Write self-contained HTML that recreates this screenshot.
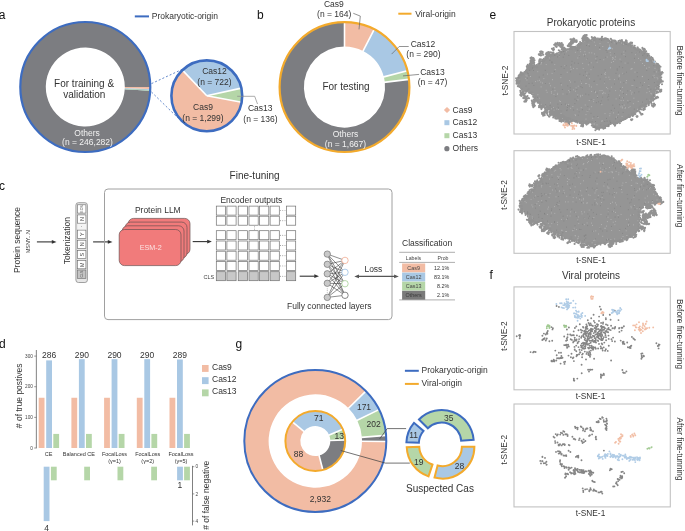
<!DOCTYPE html>
<html><head><meta charset="utf-8"><style>
html,body{margin:0;padding:0;background:#fff;width:685px;height:531px;overflow:hidden}
svg{display:block;font-family:"Liberation Sans", sans-serif;will-change:transform}
</style></head><body>
<svg width="685" height="531" viewBox="0 0 685 531">
<text x="-1.3" y="18.5" font-size="12" text-anchor="start" fill="#111" >a</text>
<text x="257" y="19" font-size="12" text-anchor="start" fill="#111" >b</text>
<text x="-1" y="189.7" font-size="12" text-anchor="start" fill="#111" >c</text>
<text x="-1" y="348.3" font-size="12" text-anchor="start" fill="#111" >d</text>
<text x="489.6" y="18.5" font-size="12" text-anchor="start" fill="#111" >e</text>
<text x="489.6" y="278.5" font-size="12" text-anchor="start" fill="#111" >f</text>
<text x="235.5" y="348.3" font-size="12" text-anchor="start" fill="#111" >g</text>
<path d="M150.20,90.63A65.0,65.0 0 1 1 150.30,87.00L124.80,87.00A39.5,39.5 0 1 0 124.74,89.20Z" fill="#7c7d81" stroke="none" stroke-width="0" />
<path d="M150.30,87.00A65.0,65.0 0 0 1 150.27,88.93L124.78,88.17A39.5,39.5 0 0 0 124.80,87.00Z" fill="#f2bca4" stroke="none" stroke-width="0" />
<path d="M150.26,89.16A65.0,65.0 0 0 1 150.20,90.63L124.74,89.20A39.5,39.5 0 0 0 124.78,88.31Z" fill="#a9c8e4" stroke="none" stroke-width="0" />
<path d="M150.23,90.06A65.0,65.0 0 0 1 150.20,90.63L124.74,89.20A39.5,39.5 0 0 0 124.76,88.86Z" fill="#b5d6a8" stroke="none" stroke-width="0" />
<circle cx="85.3" cy="87.0" r="65.0" fill="none" stroke="#3d6cc0" stroke-width="2.2"/>
<text x="84.1" y="86.5" font-size="10" text-anchor="middle" fill="#333333" >For training &amp;</text>
<text x="84.3" y="98" font-size="10" text-anchor="middle" fill="#333333" >validation</text>
<text x="87.1" y="135.7" font-size="8.5" text-anchor="middle" fill="#f2f2f2" >Others</text>
<text x="87.5" y="145.4" font-size="8.5" text-anchor="middle" fill="#f2f2f2" >(n = 246,282)</text>
<line x1="151.5" y1="83.6" x2="182.5" y2="69.2" stroke="#3d6cc0" stroke-width="0.8" stroke-dasharray="2,2"/>
<line x1="151.5" y1="92.0" x2="179.5" y2="119.5" stroke="#3d6cc0" stroke-width="0.8" stroke-dasharray="2,2"/>
<path d="M206.8,95.8L182.43,70.12A35.4,35.4 0 0 1 241.36,88.14Z" fill="#a9c8e4" stroke="none" stroke-width="0" />
<path d="M206.8,95.8L241.36,88.14A35.4,35.4 0 0 1 241.62,102.19Z" fill="#b5d6a8" stroke="none" stroke-width="0" />
<path d="M206.8,95.8L241.62,102.19A35.4,35.4 0 1 1 182.43,70.12Z" fill="#f2bca4" stroke="none" stroke-width="0" />
<line x1="206.8" y1="95.8" x2="182.43" y2="70.12" stroke="white" stroke-width="1.6" />
<line x1="206.8" y1="95.8" x2="241.36" y2="88.14" stroke="white" stroke-width="1.6" />
<line x1="206.8" y1="95.8" x2="241.62" y2="102.19" stroke="white" stroke-width="1.6" />
<circle cx="206.8" cy="95.8" r="35.4" fill="none" stroke="#3d6cc0" stroke-width="2.6"/>
<text x="214.5" y="74" font-size="8.5" text-anchor="middle" fill="#333333" >Cas12</text>
<text x="214.5" y="84.5" font-size="8.5" text-anchor="middle" fill="#333333" >(n = 722)</text>
<text x="203" y="110" font-size="8.5" text-anchor="middle" fill="#333333" >Cas9</text>
<text x="203" y="120.5" font-size="8.5" text-anchor="middle" fill="#333333" >(n = 1,299)</text>
<polyline points="237.2,96.3 254.7,96.3 257.5,104" fill="none" stroke="#888" stroke-width="0.7"/>
<text x="260.2" y="111" font-size="8.5" text-anchor="middle" fill="#333333" >Cas13</text>
<text x="260.5" y="121.5" font-size="8.5" text-anchor="middle" fill="#333333" >(n = 136)</text>
<line x1="134.8" y1="16.4" x2="149" y2="16.4" stroke="#3d6cc0" stroke-width="2" />
<text x="151.8" y="19.3" font-size="8.5" text-anchor="start" fill="#333333" >Prokaryotic-origin</text>
<path d="M344.50,22.20A64.9,64.9 0 0 1 374.20,29.39L363.08,51.00A40.6,40.6 0 0 0 344.50,46.50Z" fill="#f2bca4" stroke="none" stroke-width="0" />
<path d="M374.20,29.39A64.9,64.9 0 0 1 407.30,70.73L383.79,76.86A40.6,40.6 0 0 0 363.08,51.00Z" fill="#a9c8e4" stroke="none" stroke-width="0" />
<path d="M407.30,70.73A64.9,64.9 0 0 1 408.94,79.41L384.81,82.29A40.6,40.6 0 0 0 383.79,76.86Z" fill="#b5d6a8" stroke="none" stroke-width="0" />
<path d="M408.94,79.41A64.9,64.9 0 1 1 344.50,22.20L344.50,46.50A40.6,40.6 0 1 0 384.81,82.29Z" fill="#7c7d81" stroke="none" stroke-width="0" />
<line x1="344.50" y1="47.50" x2="344.50" y2="22.20" stroke="white" stroke-width="1.6" />
<line x1="362.62" y1="51.89" x2="374.20" y2="29.39" stroke="white" stroke-width="1.6" />
<line x1="382.82" y1="77.11" x2="407.30" y2="70.73" stroke="white" stroke-width="1.6" />
<line x1="383.82" y1="82.41" x2="408.94" y2="79.41" stroke="white" stroke-width="1.6" />
<circle cx="344.5" cy="87.1" r="64.9" fill="none" stroke="#f3aa2c" stroke-width="2.2"/>
<text x="346.0" y="89.5" font-size="10" text-anchor="middle" fill="#333333" >For testing</text>
<text x="345.5" y="137" font-size="8.5" text-anchor="middle" fill="#f2f2f2" >Others</text>
<text x="345.5" y="147" font-size="8.5" text-anchor="middle" fill="#f2f2f2" >(n = 1,667)</text>
<text x="333.8" y="6.5" font-size="8.5" text-anchor="middle" fill="#333333" >Cas9</text>
<text x="334.2" y="16.8" font-size="8.5" text-anchor="middle" fill="#333333" >(n = 164)</text>
<polyline points="353.3,13.3 360.3,16.1 359,29.4" fill="none" stroke="#666" stroke-width="0.7"/>
<text x="423" y="47" font-size="8.5" text-anchor="middle" fill="#333333" >Cas12</text>
<text x="423.5" y="57.3" font-size="8.5" text-anchor="middle" fill="#333333" >(n = 290)</text>
<polyline points="391.6,54.1 399.2,46.5 408.7,46.5" fill="none" stroke="#666" stroke-width="0.7"/>
<text x="432.5" y="75" font-size="8.5" text-anchor="middle" fill="#333333" >Cas13</text>
<text x="432.5" y="85.3" font-size="8.5" text-anchor="middle" fill="#333333" >(n = 47)</text>
<polyline points="403,75.9 419.1,74.4" fill="none" stroke="#666" stroke-width="0.7"/>
<line x1="398.3" y1="13.7" x2="411.5" y2="13.7" stroke="#f3aa2c" stroke-width="2" />
<text x="415.2" y="16.6" font-size="8.5" text-anchor="start" fill="#333333" >Viral-origin</text>
<rect x="444.8" y="107.8" width="4.4" height="4.4" fill="#f2bca4" transform="rotate(45 447 110)"/>
<rect x="444.4" y="120.2" width="5" height="5" fill="#a9c8e4"/>
<rect x="444.4" y="133.2" width="5" height="5" fill="#b5d6a8"/>
<circle cx="446.9" cy="148.7" r="2.6" fill="#7c7d81"/>
<text x="452.6" y="112.5" font-size="8.5" text-anchor="start" fill="#333333" >Cas9</text>
<text x="452.6" y="125.4" font-size="8.5" text-anchor="start" fill="#333333" >Cas12</text>
<text x="452.6" y="138.3" font-size="8.5" text-anchor="start" fill="#333333" >Cas13</text>
<text x="452.6" y="151.2" font-size="8.5" text-anchor="start" fill="#333333" >Others</text>
<text x="16.6" y="240.0" font-size="8.5" text-anchor="middle" dominant-baseline="central" fill="#333333" transform="rotate(-90 16.6 240.0)" >Protein sequence</text>
<text x="28.4" y="241.6" font-size="5.3" text-anchor="middle" dominant-baseline="central" fill="#333333" transform="rotate(-90 28.4 241.6)" >MSNY...N</text>
<line x1="36.9" y1="241.9" x2="52.3" y2="241.9" stroke="#333" stroke-width="1.1" />
<path d="M56.5,241.9L51.8,240.05L51.8,243.75Z" fill="#333"/>
<text x="67.4" y="240.6" font-size="8.5" text-anchor="middle" dominant-baseline="central" fill="#333333" transform="rotate(-90 67.4 240.6)" >Tokenization</text>
<rect x="75.9" y="202.7" width="11.5" height="79.8" rx="2.5" fill="#e6e6e6" stroke="#8a8a8a" stroke-width="0.8"/>
<rect x="77.5" y="204.8" width="8.4" height="8.3" fill="white" stroke="#666" stroke-width="0.6"/>
<text x="81.7" y="208.95000000000002" font-size="3.5" text-anchor="middle" dominant-baseline="central" fill="#555" transform="rotate(-90 81.7 208.95000000000002)" >EOS</text>
<rect x="77.5" y="214.9" width="8.4" height="8.3" fill="white" stroke="#666" stroke-width="0.6"/>
<text x="81.7" y="219.05" font-size="5.5" text-anchor="middle" dominant-baseline="central" fill="#444" transform="rotate(-90 81.7 219.05)" >N</text>
<rect x="77.5" y="230.1" width="8.4" height="8.3" fill="white" stroke="#666" stroke-width="0.6"/>
<text x="81.7" y="234.25" font-size="5.5" text-anchor="middle" dominant-baseline="central" fill="#444" transform="rotate(-90 81.7 234.25)" >Y</text>
<rect x="77.5" y="240.2" width="8.4" height="8.3" fill="white" stroke="#666" stroke-width="0.6"/>
<text x="81.7" y="244.35" font-size="5.5" text-anchor="middle" dominant-baseline="central" fill="#444" transform="rotate(-90 81.7 244.35)" >N</text>
<rect x="77.5" y="250.4" width="8.4" height="8.3" fill="white" stroke="#666" stroke-width="0.6"/>
<text x="81.7" y="254.55" font-size="5.5" text-anchor="middle" dominant-baseline="central" fill="#444" transform="rotate(-90 81.7 254.55)" >S</text>
<rect x="77.5" y="260.5" width="8.4" height="8.3" fill="white" stroke="#666" stroke-width="0.6"/>
<text x="81.7" y="264.65" font-size="5.5" text-anchor="middle" dominant-baseline="central" fill="#444" transform="rotate(-90 81.7 264.65)" >M</text>
<rect x="77.5" y="270.0" width="8.4" height="8.3" fill="#c4c4c4" stroke="#666" stroke-width="0.6"/>
<text x="81.7" y="274.15" font-size="3.5" text-anchor="middle" dominant-baseline="central" fill="#555" transform="rotate(-90 81.7 274.15)" >CLS</text>
<rect x="77.5" y="223.8" width="8.4" height="5.6" fill="#f4f4f4"/>
<text x="81.7" y="226.6" font-size="4.5" text-anchor="middle" dominant-baseline="central" fill="#777" transform="rotate(-90 81.7 226.6)" >-</text>
<line x1="93.1" y1="241.9" x2="108.3" y2="241.9" stroke="#333" stroke-width="1.1" />
<path d="M112.5,241.9L107.8,240.05L107.8,243.75Z" fill="#333"/>
<rect x="104.5" y="189" width="287.5" height="130.6" rx="3.5" fill="none" stroke="#a0a0a0" stroke-width="1"/>
<text x="254.6" y="179.4" font-size="10" text-anchor="middle" fill="#333333" >Fine-tuning</text>
<text x="157.8" y="213.1" font-size="8.5" text-anchor="middle" fill="#333333" >Protein LLM</text>
<rect x="128.2" y="218.4" width="61.8" height="36.1" rx="5.3" fill="#f17b7b" stroke="#6a5050" stroke-width="0.7"/>
<rect x="125.2" y="222.1" width="61.8" height="36.1" rx="5.3" fill="#f17b7b" stroke="#6a5050" stroke-width="0.7"/>
<rect x="122.2" y="225.8" width="61.8" height="36.1" rx="5.3" fill="#f17b7b" stroke="#6a5050" stroke-width="0.7"/>
<rect x="119.2" y="229.5" width="61.8" height="36.1" rx="5.3" fill="#f17b7b" stroke="#6a5050" stroke-width="0.7"/>
<text x="150.7" y="249.8" font-size="7.2" text-anchor="middle" fill="#fbe3e3" >ESM-2</text>
<line x1="192.7" y1="241.6" x2="207.70000000000002" y2="241.6" stroke="#333" stroke-width="1.1" />
<path d="M211.9,241.6L207.20000000000002,239.75L207.20000000000002,243.45Z" fill="#333"/>
<text x="251.4" y="203.2" font-size="8.5" text-anchor="middle" fill="#333333" >Encoder outputs</text>
<rect x="216.3" y="206.1" width="9.2" height="9.0" fill="white" stroke="#707070" stroke-width="0.7"/>
<rect x="226.9" y="206.1" width="9.2" height="9.0" fill="white" stroke="#707070" stroke-width="0.7"/>
<rect x="238.2" y="206.1" width="9.2" height="9.0" fill="white" stroke="#707070" stroke-width="0.7"/>
<rect x="249.0" y="206.1" width="9.2" height="9.0" fill="white" stroke="#707070" stroke-width="0.7"/>
<rect x="259.6" y="206.1" width="9.2" height="9.0" fill="white" stroke="#707070" stroke-width="0.7"/>
<rect x="270.1" y="206.1" width="9.2" height="9.0" fill="white" stroke="#707070" stroke-width="0.7"/>
<rect x="286.5" y="206.1" width="9.2" height="9.0" fill="white" stroke="#707070" stroke-width="0.7"/>
<circle cx="280.6" cy="210.6" r="0.45" fill="#555"/>
<circle cx="282.8" cy="210.6" r="0.45" fill="#555"/>
<circle cx="285.0" cy="210.6" r="0.45" fill="#555"/>
<rect x="216.3" y="216.2" width="9.2" height="9.0" fill="white" stroke="#707070" stroke-width="0.7"/>
<rect x="226.9" y="216.2" width="9.2" height="9.0" fill="white" stroke="#707070" stroke-width="0.7"/>
<rect x="238.2" y="216.2" width="9.2" height="9.0" fill="white" stroke="#707070" stroke-width="0.7"/>
<rect x="249.0" y="216.2" width="9.2" height="9.0" fill="white" stroke="#707070" stroke-width="0.7"/>
<rect x="259.6" y="216.2" width="9.2" height="9.0" fill="white" stroke="#707070" stroke-width="0.7"/>
<rect x="270.1" y="216.2" width="9.2" height="9.0" fill="white" stroke="#707070" stroke-width="0.7"/>
<rect x="286.5" y="216.2" width="9.2" height="9.0" fill="white" stroke="#707070" stroke-width="0.7"/>
<circle cx="280.6" cy="220.7" r="0.45" fill="#555"/>
<circle cx="282.8" cy="220.7" r="0.45" fill="#555"/>
<circle cx="285.0" cy="220.7" r="0.45" fill="#555"/>
<rect x="216.3" y="230.7" width="9.2" height="9.0" fill="white" stroke="#707070" stroke-width="0.7"/>
<rect x="226.9" y="230.7" width="9.2" height="9.0" fill="white" stroke="#707070" stroke-width="0.7"/>
<rect x="238.2" y="230.7" width="9.2" height="9.0" fill="white" stroke="#707070" stroke-width="0.7"/>
<rect x="249.0" y="230.7" width="9.2" height="9.0" fill="white" stroke="#707070" stroke-width="0.7"/>
<rect x="259.6" y="230.7" width="9.2" height="9.0" fill="white" stroke="#707070" stroke-width="0.7"/>
<rect x="270.1" y="230.7" width="9.2" height="9.0" fill="white" stroke="#707070" stroke-width="0.7"/>
<rect x="286.5" y="230.7" width="9.2" height="9.0" fill="white" stroke="#707070" stroke-width="0.7"/>
<circle cx="280.6" cy="235.2" r="0.45" fill="#555"/>
<circle cx="282.8" cy="235.2" r="0.45" fill="#555"/>
<circle cx="285.0" cy="235.2" r="0.45" fill="#555"/>
<rect x="216.3" y="241.0" width="9.2" height="9.0" fill="white" stroke="#707070" stroke-width="0.7"/>
<rect x="226.9" y="241.0" width="9.2" height="9.0" fill="white" stroke="#707070" stroke-width="0.7"/>
<rect x="238.2" y="241.0" width="9.2" height="9.0" fill="white" stroke="#707070" stroke-width="0.7"/>
<rect x="249.0" y="241.0" width="9.2" height="9.0" fill="white" stroke="#707070" stroke-width="0.7"/>
<rect x="259.6" y="241.0" width="9.2" height="9.0" fill="white" stroke="#707070" stroke-width="0.7"/>
<rect x="270.1" y="241.0" width="9.2" height="9.0" fill="white" stroke="#707070" stroke-width="0.7"/>
<rect x="286.5" y="241.0" width="9.2" height="9.0" fill="white" stroke="#707070" stroke-width="0.7"/>
<circle cx="280.6" cy="245.5" r="0.45" fill="#555"/>
<circle cx="282.8" cy="245.5" r="0.45" fill="#555"/>
<circle cx="285.0" cy="245.5" r="0.45" fill="#555"/>
<rect x="216.3" y="251.2" width="9.2" height="9.0" fill="white" stroke="#707070" stroke-width="0.7"/>
<rect x="226.9" y="251.2" width="9.2" height="9.0" fill="white" stroke="#707070" stroke-width="0.7"/>
<rect x="238.2" y="251.2" width="9.2" height="9.0" fill="white" stroke="#707070" stroke-width="0.7"/>
<rect x="249.0" y="251.2" width="9.2" height="9.0" fill="white" stroke="#707070" stroke-width="0.7"/>
<rect x="259.6" y="251.2" width="9.2" height="9.0" fill="white" stroke="#707070" stroke-width="0.7"/>
<rect x="270.1" y="251.2" width="9.2" height="9.0" fill="white" stroke="#707070" stroke-width="0.7"/>
<rect x="286.5" y="251.2" width="9.2" height="9.0" fill="white" stroke="#707070" stroke-width="0.7"/>
<circle cx="280.6" cy="255.7" r="0.45" fill="#555"/>
<circle cx="282.8" cy="255.7" r="0.45" fill="#555"/>
<circle cx="285.0" cy="255.7" r="0.45" fill="#555"/>
<rect x="216.3" y="261.4" width="9.2" height="9.0" fill="white" stroke="#707070" stroke-width="0.7"/>
<rect x="226.9" y="261.4" width="9.2" height="9.0" fill="white" stroke="#707070" stroke-width="0.7"/>
<rect x="238.2" y="261.4" width="9.2" height="9.0" fill="white" stroke="#707070" stroke-width="0.7"/>
<rect x="249.0" y="261.4" width="9.2" height="9.0" fill="white" stroke="#707070" stroke-width="0.7"/>
<rect x="259.6" y="261.4" width="9.2" height="9.0" fill="white" stroke="#707070" stroke-width="0.7"/>
<rect x="270.1" y="261.4" width="9.2" height="9.0" fill="white" stroke="#707070" stroke-width="0.7"/>
<rect x="286.5" y="261.4" width="9.2" height="9.0" fill="white" stroke="#707070" stroke-width="0.7"/>
<circle cx="280.6" cy="265.9" r="0.45" fill="#555"/>
<circle cx="282.8" cy="265.9" r="0.45" fill="#555"/>
<circle cx="285.0" cy="265.9" r="0.45" fill="#555"/>
<rect x="216.3" y="271.7" width="9.2" height="9.0" fill="#c8c8c8" stroke="#707070" stroke-width="0.7"/>
<rect x="226.9" y="271.7" width="9.2" height="9.0" fill="#c8c8c8" stroke="#707070" stroke-width="0.7"/>
<rect x="238.2" y="271.7" width="9.2" height="9.0" fill="#c8c8c8" stroke="#707070" stroke-width="0.7"/>
<rect x="249.0" y="271.7" width="9.2" height="9.0" fill="#c8c8c8" stroke="#707070" stroke-width="0.7"/>
<rect x="259.6" y="271.7" width="9.2" height="9.0" fill="#c8c8c8" stroke="#707070" stroke-width="0.7"/>
<rect x="270.1" y="271.7" width="9.2" height="9.0" fill="#c8c8c8" stroke="#707070" stroke-width="0.7"/>
<rect x="286.5" y="271.7" width="9.2" height="9.0" fill="#c8c8c8" stroke="#707070" stroke-width="0.7"/>
<circle cx="280.6" cy="276.2" r="0.45" fill="#555"/>
<circle cx="282.8" cy="276.2" r="0.45" fill="#555"/>
<circle cx="285.0" cy="276.2" r="0.45" fill="#555"/>
<line x1="254.5" y1="226" x2="254.5" y2="230" stroke="#888" stroke-width="0.6" stroke-dasharray="0.8,0.8"/>
<text x="208.8" y="279.0" font-size="5.5" text-anchor="middle" fill="#444" >CLS</text>
<line x1="299.7" y1="276.2" x2="314.8" y2="276.2" stroke="#333" stroke-width="1.1" />
<path d="M319,276.2L314.3,274.34999999999997L314.3,278.05Z" fill="#333"/>
<line x1="327.3" y1="254.1" x2="345" y2="260.4" stroke="#333" stroke-width="0.55" />
<line x1="327.3" y1="254.1" x2="345" y2="272.3" stroke="#333" stroke-width="0.55" />
<line x1="327.3" y1="254.1" x2="345" y2="283.7" stroke="#333" stroke-width="0.55" />
<line x1="327.3" y1="254.1" x2="345" y2="295.3" stroke="#333" stroke-width="0.55" />
<line x1="327.3" y1="264.3" x2="345" y2="260.4" stroke="#333" stroke-width="0.55" />
<line x1="327.3" y1="264.3" x2="345" y2="272.3" stroke="#333" stroke-width="0.55" />
<line x1="327.3" y1="264.3" x2="345" y2="283.7" stroke="#333" stroke-width="0.55" />
<line x1="327.3" y1="264.3" x2="345" y2="295.3" stroke="#333" stroke-width="0.55" />
<line x1="327.3" y1="273.8" x2="345" y2="260.4" stroke="#333" stroke-width="0.55" />
<line x1="327.3" y1="273.8" x2="345" y2="272.3" stroke="#333" stroke-width="0.55" />
<line x1="327.3" y1="273.8" x2="345" y2="283.7" stroke="#333" stroke-width="0.55" />
<line x1="327.3" y1="273.8" x2="345" y2="295.3" stroke="#333" stroke-width="0.55" />
<line x1="327.3" y1="283.3" x2="345" y2="260.4" stroke="#333" stroke-width="0.55" />
<line x1="327.3" y1="283.3" x2="345" y2="272.3" stroke="#333" stroke-width="0.55" />
<line x1="327.3" y1="283.3" x2="345" y2="283.7" stroke="#333" stroke-width="0.55" />
<line x1="327.3" y1="283.3" x2="345" y2="295.3" stroke="#333" stroke-width="0.55" />
<line x1="327.3" y1="297.4" x2="345" y2="260.4" stroke="#333" stroke-width="0.55" />
<line x1="327.3" y1="297.4" x2="345" y2="272.3" stroke="#333" stroke-width="0.55" />
<line x1="327.3" y1="297.4" x2="345" y2="283.7" stroke="#333" stroke-width="0.55" />
<line x1="327.3" y1="297.4" x2="345" y2="295.3" stroke="#333" stroke-width="0.55" />
<circle cx="327.3" cy="254.1" r="3.2" fill="#c9c9c9" stroke="#666" stroke-width="0.6"/>
<circle cx="327.3" cy="264.3" r="3.2" fill="#c9c9c9" stroke="#666" stroke-width="0.6"/>
<circle cx="327.3" cy="273.8" r="3.2" fill="#c9c9c9" stroke="#666" stroke-width="0.6"/>
<circle cx="327.3" cy="283.3" r="3.2" fill="#c9c9c9" stroke="#666" stroke-width="0.6"/>
<circle cx="327.3" cy="297.4" r="3.2" fill="#c9c9c9" stroke="#666" stroke-width="0.6"/>
<line x1="327.3" y1="288.5" x2="327.3" y2="293" stroke="#777" stroke-width="0.6" stroke-dasharray="0.8,0.9"/>
<circle cx="345" cy="260.4" r="3.2" fill="white" stroke="#f0a285" stroke-width="0.7"/>
<circle cx="345" cy="272.3" r="3.2" fill="white" stroke="#8fb7e0" stroke-width="0.7"/>
<circle cx="345" cy="283.7" r="3.2" fill="white" stroke="#9ccc8a" stroke-width="0.7"/>
<circle cx="345" cy="295.3" r="3.2" fill="white" stroke="#555" stroke-width="0.7"/>
<text x="329.3" y="309" font-size="8.5" text-anchor="middle" fill="#333333" >Fully connected layers</text>
<text x="373.4" y="271.7" font-size="8.5" text-anchor="middle" fill="#333333" >Loss</text>
<line x1="357" y1="276.4" x2="396" y2="276.4" stroke="#555" stroke-width="1.1" />
<path d="M354.3,276.4L359,274.5L359,278.3Z" fill="#555"/>
<path d="M398.8,276.4L394.1,274.5L394.1,278.3Z" fill="#555"/>
<text x="427.1" y="246.3" font-size="8.5" text-anchor="middle" fill="#333333" >Classification</text>
<line x1="399.2" y1="252.3" x2="455" y2="252.3" stroke="#999" stroke-width="0.8" />
<line x1="399.2" y1="262.4" x2="455" y2="262.4" stroke="#999" stroke-width="0.8" />
<line x1="399.2" y1="299.9" x2="455" y2="299.9" stroke="#999" stroke-width="0.8" />
<text x="413.5" y="259.8" font-size="5.2" text-anchor="middle" fill="#444" >Labels</text>
<text x="443" y="259.8" font-size="5.2" text-anchor="middle" fill="#444" >Prob</text>
<rect x="402.1" y="263.5" width="23.1" height="8.9" fill="#f2bca4"/>
<text x="413.6" y="269.9" font-size="5.4" text-anchor="middle" fill="#444" >Cas9</text>
<text x="449.3" y="269.9" font-size="5.4" text-anchor="end" fill="#333" >12.1%</text>
<rect x="402.1" y="272.6" width="23.1" height="8.9" fill="#a9c8e4"/>
<text x="413.6" y="279.0" font-size="5.4" text-anchor="middle" fill="#444" >Cas12</text>
<text x="449.3" y="279.0" font-size="5.4" text-anchor="end" fill="#333" >83.1%</text>
<rect x="402.1" y="281.7" width="23.1" height="8.9" fill="#b5d6a8"/>
<text x="413.6" y="288.09999999999997" font-size="5.4" text-anchor="middle" fill="#444" >Cas13</text>
<text x="449.3" y="288.09999999999997" font-size="5.4" text-anchor="end" fill="#333" >8.2%</text>
<rect x="402.1" y="290.8" width="23.1" height="8.9" fill="#7a7a7a"/>
<text x="413.6" y="297.2" font-size="5.4" text-anchor="middle" fill="#3a3a3a" >Others</text>
<text x="449.3" y="297.2" font-size="5.4" text-anchor="end" fill="#333" >2.1%</text>
<line x1="36.35" y1="350" x2="36.35" y2="448.3" stroke="#555" stroke-width="0.75" />
<line x1="34.2" y1="448.0" x2="36.35" y2="448.0" stroke="#555" stroke-width="0.6" />
<text x="32.9" y="449.7" font-size="4.7" text-anchor="end" fill="#444" >0</text>
<line x1="34.2" y1="417.3666666666667" x2="36.35" y2="417.3666666666667" stroke="#555" stroke-width="0.6" />
<text x="32.9" y="419.06666666666666" font-size="4.7" text-anchor="end" fill="#444" >100</text>
<line x1="34.2" y1="386.73333333333335" x2="36.35" y2="386.73333333333335" stroke="#555" stroke-width="0.6" />
<text x="32.9" y="388.43333333333334" font-size="4.7" text-anchor="end" fill="#444" >200</text>
<line x1="34.2" y1="356.1" x2="36.35" y2="356.1" stroke="#555" stroke-width="0.6" />
<text x="32.9" y="357.8" font-size="4.7" text-anchor="end" fill="#444" >300</text>
<text x="18.8" y="395.8" font-size="8.5" text-anchor="middle" dominant-baseline="central" fill="#333333" transform="rotate(-90 18.8 395.8)" ># of true postives</text>
<rect x="38.70" y="397.76" width="5.8" height="50.24" fill="#f2bca4"/>
<rect x="46.20" y="360.39" width="5.8" height="87.61" fill="#a9c8e4"/>
<rect x="53.30" y="433.91" width="5.8" height="14.09" fill="#b5d6a8"/>
<text x="49.10" y="357.8" font-size="8.5" text-anchor="middle" fill="#333333" >286</text>
<rect x="71.40" y="397.76" width="5.8" height="50.24" fill="#f2bca4"/>
<rect x="78.90" y="359.16" width="5.8" height="88.84" fill="#a9c8e4"/>
<rect x="86.00" y="433.91" width="5.8" height="14.09" fill="#b5d6a8"/>
<text x="81.80" y="357.8" font-size="8.5" text-anchor="middle" fill="#333333" >290</text>
<rect x="104.10" y="397.76" width="5.8" height="50.24" fill="#f2bca4"/>
<rect x="111.60" y="359.16" width="5.8" height="88.84" fill="#a9c8e4"/>
<rect x="118.70" y="433.91" width="5.8" height="14.09" fill="#b5d6a8"/>
<text x="114.50" y="357.8" font-size="8.5" text-anchor="middle" fill="#333333" >290</text>
<rect x="136.80" y="397.76" width="5.8" height="50.24" fill="#f2bca4"/>
<rect x="144.30" y="359.16" width="5.8" height="88.84" fill="#a9c8e4"/>
<rect x="151.40" y="433.91" width="5.8" height="14.09" fill="#b5d6a8"/>
<text x="147.20" y="357.8" font-size="8.5" text-anchor="middle" fill="#333333" >290</text>
<rect x="169.50" y="397.76" width="5.8" height="50.24" fill="#f2bca4"/>
<rect x="177.00" y="359.47" width="5.8" height="88.53" fill="#a9c8e4"/>
<rect x="184.10" y="433.91" width="5.8" height="14.09" fill="#b5d6a8"/>
<text x="179.90" y="357.8" font-size="8.5" text-anchor="middle" fill="#333333" >289</text>
<text x="48.60" y="456.0" font-size="5.5" text-anchor="middle" fill="#333" >CE</text>
<text x="78.90" y="456.0" font-size="5.5" text-anchor="middle" fill="#333" >Balanced CE</text>
<text x="114.50" y="456.0" font-size="5.5" text-anchor="middle" fill="#333" >FocalLoss</text>
<text x="114.50" y="462.6" font-size="5.5" text-anchor="middle" fill="#333" >(γ=1)</text>
<text x="147.70" y="456.0" font-size="5.5" text-anchor="middle" fill="#333" >FocalLoss</text>
<text x="147.70" y="462.6" font-size="5.5" text-anchor="middle" fill="#333" >(γ=2)</text>
<text x="181.00" y="456.0" font-size="5.5" text-anchor="middle" fill="#333" >FocalLoss</text>
<text x="181.00" y="462.6" font-size="5.5" text-anchor="middle" fill="#333" >(γ=5)</text>
<rect x="202" y="365.0" width="6.6" height="6.9" fill="#f2bca4"/>
<text x="212" y="369.9" font-size="8.5" text-anchor="start" fill="#333333" >Cas9</text>
<rect x="202" y="377.2" width="6.6" height="6.9" fill="#a9c8e4"/>
<text x="212" y="382.1" font-size="8.5" text-anchor="start" fill="#333333" >Cas12</text>
<rect x="202" y="389.4" width="6.6" height="6.9" fill="#b5d6a8"/>
<text x="212" y="394.3" font-size="8.5" text-anchor="start" fill="#333333" >Cas13</text>
<line x1="192.5" y1="465.8" x2="192.5" y2="525.4" stroke="#555" stroke-width="0.75" />
<line x1="192.5" y1="466.7" x2="194.3" y2="466.7" stroke="#555" stroke-width="0.6" />
<text x="195.6" y="468.4" font-size="4.7" text-anchor="start" fill="#444" >0</text>
<line x1="192.5" y1="493.9" x2="194.3" y2="493.9" stroke="#555" stroke-width="0.6" />
<text x="195.6" y="495.59999999999997" font-size="4.7" text-anchor="start" fill="#444" >2</text>
<line x1="192.5" y1="521.1" x2="194.3" y2="521.1" stroke="#555" stroke-width="0.6" />
<text x="195.6" y="522.8000000000001" font-size="4.7" text-anchor="start" fill="#444" >4</text>
<rect x="43.7" y="466.7" width="5.8" height="54.40" fill="#a9c8e4"/>
<rect x="50.9" y="466.7" width="5.8" height="13.60" fill="#b5d6a8"/>
<rect x="84.2" y="466.7" width="5.8" height="13.60" fill="#b5d6a8"/>
<rect x="117.5" y="466.7" width="5.8" height="13.60" fill="#b5d6a8"/>
<rect x="151.2" y="466.7" width="5.8" height="13.60" fill="#b5d6a8"/>
<rect x="177.1" y="466.7" width="5.8" height="13.60" fill="#a9c8e4"/>
<rect x="184.1" y="466.7" width="5.8" height="13.60" fill="#b5d6a8"/>
<text x="46.5" y="531.0" font-size="8.5" text-anchor="middle" fill="#333333" >4</text>
<text x="179.8" y="488.3" font-size="8.5" text-anchor="middle" fill="#333333" >1</text>
<text x="205.9" y="495.3" font-size="8.5" text-anchor="middle" dominant-baseline="central" fill="#333333" transform="rotate(-90 205.9 495.3)" ># of false negative</text>
<path d="M386.30,441.50A71.0,71.0 0 1 1 365.84,391.14L348.54,408.20A46.7,46.7 0 1 0 362.00,441.33Z" fill="#f2bca4" stroke="none" stroke-width="0" />
<path d="M365.84,391.14A71.0,71.0 0 0 1 378.98,409.61L357.19,420.35A46.7,46.7 0 0 0 348.54,408.20Z" fill="#a9c8e4" stroke="none" stroke-width="0" />
<path d="M378.98,409.61A71.0,71.0 0 0 1 386.08,435.38L361.85,437.30A46.7,46.7 0 0 0 357.19,420.35Z" fill="#b5d6a8" stroke="none" stroke-width="0" />
<path d="M386.08,435.38A71.0,71.0 0 0 1 386.30,441.50L362.00,441.33A46.7,46.7 0 0 0 361.85,437.30Z" fill="#7c7d81" stroke="none" stroke-width="0" />
<line x1="361.50" y1="441.32" x2="386.30" y2="441.50" stroke="white" stroke-width="1.6" />
<line x1="348.19" y1="408.55" x2="365.84" y2="391.14" stroke="white" stroke-width="1.6" />
<line x1="356.74" y1="420.57" x2="378.98" y2="409.61" stroke="white" stroke-width="1.6" />
<line x1="361.35" y1="437.34" x2="386.08" y2="435.38" stroke="white" stroke-width="1.6" />
<circle cx="315.3" cy="441.0" r="71.0" fill="none" stroke="#3d6cc0" stroke-width="2"/>
<path d="M292.40,421.78A29.9,29.9 0 0 1 342.76,429.18L329.08,435.07A15.0,15.0 0 0 0 303.81,431.36Z" fill="#a9c8e4" stroke="none" stroke-width="0" />
<path d="M342.76,429.18A29.9,29.9 0 0 1 345.18,440.00L330.29,440.50A15.0,15.0 0 0 0 329.08,435.07Z" fill="#b5d6a8" stroke="none" stroke-width="0" />
<path d="M345.18,440.00A29.9,29.9 0 0 1 322.87,469.93L319.10,455.51A15.0,15.0 0 0 0 330.29,440.50Z" fill="#7c7d81" stroke="none" stroke-width="0" />
<path d="M322.87,469.93A29.9,29.9 0 0 1 292.40,421.78L303.81,431.36A15.0,15.0 0 0 0 319.10,455.51Z" fill="#f2bca4" stroke="none" stroke-width="0" />
<line x1="304.19" y1="431.68" x2="292.40" y2="421.78" stroke="white" stroke-width="1.6" />
<line x1="328.62" y1="435.27" x2="342.76" y2="429.18" stroke="white" stroke-width="1.6" />
<line x1="329.79" y1="440.51" x2="345.18" y2="440.00" stroke="white" stroke-width="1.6" />
<line x1="318.97" y1="455.03" x2="322.87" y2="469.93" stroke="white" stroke-width="1.6" />
<circle cx="315.3" cy="441.0" r="29.9" fill="none" stroke="#f3aa2c" stroke-width="2"/>
<text x="318.8" y="421.2" font-size="8.5" text-anchor="middle" fill="#333333" >71</text>
<text x="339.2" y="439.0" font-size="8.5" text-anchor="middle" fill="#333333" >13</text>
<text x="298.4" y="457.1" font-size="8.5" text-anchor="middle" fill="#333333" >88</text>
<text x="364" y="409.5" font-size="8.5" text-anchor="middle" fill="#333333" >171</text>
<text x="373.7" y="427.4" font-size="8.5" text-anchor="middle" fill="#333333" >202</text>
<text x="320.3" y="501.5" font-size="8.5" text-anchor="middle" fill="#333333" >2,932</text>
<path d="M406.40,442.33A32.0,32.0 0 0 1 414.00,422.82L423.52,430.92A19.5,19.5 0 0 0 418.89,442.81Z" fill="#a9c8e4" stroke="#3d6cc0" stroke-width="2" stroke-linejoin="miter"/>
<path d="M418.99,419.52A32.0,32.0 0 0 1 473.62,439.75L461.15,440.66A19.5,19.5 0 0 0 427.86,428.33Z" fill="#b5d6a8" stroke="#3d6cc0" stroke-width="2" stroke-linejoin="miter"/>
<path d="M474.39,446.70A32.0,32.0 0 0 1 434.51,477.57L437.59,465.46A19.5,19.5 0 0 0 461.89,446.65Z" fill="#a9c8e4" stroke="#f3aa2c" stroke-width="2" stroke-linejoin="miter"/>
<path d="M428.48,476.38A32.0,32.0 0 0 1 406.74,447.28L419.23,446.81A19.5,19.5 0 0 0 432.48,464.53Z" fill="#b5d6a8" stroke="#f3aa2c" stroke-width="2" stroke-linejoin="miter"/>
<text x="448.8" y="421.0" font-size="8.5" text-anchor="middle" fill="#333333" >35</text>
<text x="413.6" y="437.9" font-size="8.5" text-anchor="middle" fill="#333333" >11</text>
<text x="418.7" y="465.3" font-size="8.5" text-anchor="middle" fill="#333333" >19</text>
<text x="459.4" y="468.6" font-size="8.5" text-anchor="middle" fill="#333333" >28</text>
<polyline points="379.7,438.8 387.2,428.6 406.1,428.6" fill="none" stroke="#444" stroke-width="0.75"/>
<polyline points="340.7,450.5 385.4,463.1 409.8,463.1" fill="none" stroke="#444" stroke-width="0.75"/>
<text x="440" y="491.8" font-size="10" text-anchor="middle" fill="#333333" >Suspected Cas</text>
<line x1="404.9" y1="370.8" x2="418.8" y2="370.8" stroke="#3d6cc0" stroke-width="2" />
<text x="421.6" y="373.0" font-size="8.5" text-anchor="start" fill="#333333" >Prokaryotic-origin</text>
<line x1="404.9" y1="383.9" x2="418.8" y2="383.9" stroke="#f3aa2c" stroke-width="2" />
<text x="421.6" y="386.1" font-size="8.5" text-anchor="start" fill="#333333" >Viral-origin</text>
<text x="591" y="25.6" font-size="10" text-anchor="middle" fill="#333333" >Prokaryotic proteins</text>
<text x="591" y="279.0" font-size="10" text-anchor="middle" fill="#333333" >Viral proteins</text>
<rect x="514.0" y="31.5" width="156.2" height="102.5" fill="none" stroke="#c2c2c2" stroke-width="1.1"/>
<rect x="514.0" y="150.7" width="156.2" height="102.6" fill="none" stroke="#c2c2c2" stroke-width="1.1"/>
<rect x="514.0" y="286.9" width="156.3" height="102.9" fill="none" stroke="#c2c2c2" stroke-width="1.1"/>
<rect x="514.0" y="404.0" width="156.3" height="102.9" fill="none" stroke="#c2c2c2" stroke-width="1.1"/>
<text x="504.5" y="80.5" font-size="8.3" text-anchor="middle" dominant-baseline="central" fill="#333333" transform="rotate(-90 504.5 80.5)" >t-SNE-2</text>
<text x="504.5" y="194.89999999999998" font-size="8.3" text-anchor="middle" dominant-baseline="central" fill="#333333" transform="rotate(-90 504.5 194.89999999999998)" >t-SNE-2</text>
<text x="504.5" y="336.09999999999997" font-size="8.3" text-anchor="middle" dominant-baseline="central" fill="#333333" transform="rotate(-90 504.5 336.09999999999997)" >t-SNE-2</text>
<text x="504.5" y="449.7" font-size="8.3" text-anchor="middle" dominant-baseline="central" fill="#333333" transform="rotate(-90 504.5 449.7)" >t-SNE-2</text>
<text x="591" y="145.2" font-size="8.3" text-anchor="middle" fill="#333333" >t-SNE-1</text>
<text x="591" y="262.9" font-size="8.3" text-anchor="middle" fill="#333333" >t-SNE-1</text>
<text x="590.5" y="399.2" font-size="8.3" text-anchor="middle" fill="#333333" >t-SNE-1</text>
<text x="590.5" y="516.2" font-size="8.3" text-anchor="middle" fill="#333333" >t-SNE-1</text>
<text x="680.3" y="80.6" font-size="8.3" text-anchor="middle" dominant-baseline="central" fill="#333333" transform="rotate(90 680.3 80.6)" >Before fine-tunning</text>
<text x="680.3" y="195.7" font-size="8.3" text-anchor="middle" dominant-baseline="central" fill="#333333" transform="rotate(90 680.3 195.7)" >After fine-tunning</text>
<text x="680.3" y="334.0" font-size="8.3" text-anchor="middle" dominant-baseline="central" fill="#333333" transform="rotate(90 680.3 334.0)" >Before fine-tunning</text>
<text x="680.3" y="449.0" font-size="8.3" text-anchor="middle" dominant-baseline="central" fill="#333333" transform="rotate(90 680.3 449.0)" >After fine-tunning</text>
<polygon points="517.5,81.8 519.0,76.0 523.7,72.0 529.5,68.5 537.7,63.9 547.0,56.9 556.4,53.4 564.6,49.9 573.9,47.5 582.0,42.8 589.0,40.5 597.0,38.0 607.5,39.2 613.4,43.0 622.7,41.5 630.9,45.2 640.2,50.4 648.4,55.7 655.4,63.9 660.0,68.5 660.5,76.7 661.0,82.6 656.6,87.0 654.2,95.2 650.7,102.2 641.4,108.0 634.4,113.9 625.0,119.7 613.4,123.2 605.2,126.7 596.0,129.5 590.0,122.0 577.4,122.0 566.9,119.7 561.0,115.0 556.4,109.2 550.5,109.2 542.4,106.9 535.4,99.9 533.0,92.8 523.7,91.1 519.0,87.0" fill="#959595" stroke="#959595" stroke-width="1" stroke-linejoin="round"/>
<path d="M516.1 78.3h0M516.9 79.0h0M516.4 80.6h0M519.4 77.7h0M518.2 79.8h0M520.1 81.3h0M518.0 77.6h0M518.7 75.9h0M519.9 75.5h0M519.4 74.8h0M520.7 73.0h0M521.3 73.6h0M525.6 72.0h0M522.0 73.8h0M526.9 71.7h0M526.6 69.8h0M529.3 68.6h0M525.9 70.7h0M529.1 68.8h0M527.5 69.0h0M522.9 73.9h0M528.7 69.9h0M532.0 68.7h0M529.9 67.3h0M531.0 67.1h0M535.6 66.2h0M530.9 70.2h0M535.4 66.8h0M529.7 68.7h0M537.2 67.3h0M531.2 69.2h0M532.1 67.4h0M529.6 67.7h0M542.5 60.5h0M545.3 57.3h0M546.0 58.4h0M546.5 56.9h0M539.3 60.2h0M541.5 61.9h0M542.9 59.9h0M538.8 63.5h0M544.2 60.8h0M543.1 60.3h0M545.1 59.2h0M543.7 58.9h0M540.9 61.6h0M547.0 57.9h0M548.0 57.5h0M553.0 55.6h0M556.8 53.6h0M553.0 54.2h0M549.5 57.0h0M553.8 54.4h0M551.4 54.9h0M550.4 55.8h0M552.0 52.8h0M553.4 52.6h0M554.7 54.9h0M564.5 49.5h0M563.7 49.6h0M560.5 52.1h0M562.6 52.0h0M565.7 48.8h0M559.5 50.7h0M560.2 51.5h0M563.9 51.0h0M560.5 53.3h0M558.8 50.2h0M567.8 49.3h0M571.1 48.9h0M572.4 46.8h0M572.2 49.1h0M564.8 50.2h0M573.8 47.0h0M569.8 49.0h0M570.2 47.0h0M572.0 47.9h0M565.4 49.7h0M565.4 50.1h0M577.1 46.9h0M581.5 43.0h0M574.4 47.1h0M578.9 43.8h0M580.8 43.8h0M579.4 45.7h0M576.0 46.6h0M577.7 45.0h0M580.1 42.1h0M579.8 45.4h0M576.5 46.7h0M587.3 41.9h0M584.0 40.9h0M586.3 40.4h0M587.9 40.7h0M588.4 40.1h0M583.6 40.2h0M582.8 41.1h0M588.6 40.6h0M594.7 40.4h0M594.5 37.2h0M593.0 38.3h0M595.1 37.6h0M593.2 38.6h0M592.7 40.2h0M593.5 38.0h0M589.4 40.1h0M595.8 39.3h0M595.7 39.0h0M602.1 36.7h0M605.3 38.4h0M607.6 39.5h0M602.1 40.2h0M601.8 38.5h0M602.5 39.6h0M606.4 38.6h0M607.1 38.8h0M603.4 39.9h0M602.1 38.5h0M606.2 39.1h0M604.3 38.5h0M612.7 42.3h0M612.1 40.2h0M608.6 40.3h0M610.9 38.9h0M610.0 41.6h0M611.6 41.3h0M612.7 42.3h0M608.5 39.2h0M616.4 42.1h0M621.1 42.7h0M616.1 43.8h0M616.7 43.1h0M618.7 42.8h0M618.5 41.1h0M619.8 40.5h0M615.5 40.8h0M621.4 42.4h0M622.7 45.1h0M622.1 42.2h0M628.6 44.6h0M628.0 45.4h0M622.5 42.8h0M623.3 43.0h0M630.7 44.8h0M626.9 42.2h0M628.5 44.4h0M624.8 42.2h0M626.4 43.2h0M624.8 44.0h0M640.5 50.2h0M632.5 45.2h0M637.5 50.2h0M634.5 48.5h0M630.4 43.4h0M631.0 46.6h0M634.9 47.9h0M637.8 48.1h0M637.8 47.5h0M635.6 49.2h0M637.4 47.6h0M634.7 45.7h0M647.0 53.6h0M648.7 54.1h0M646.6 53.5h0M647.0 54.6h0M645.0 52.9h0M644.9 53.3h0M647.5 54.6h0M644.5 53.4h0M644.8 52.5h0M646.2 51.3h0M639.2 49.4h0M649.9 58.0h0M649.4 57.6h0M651.2 57.1h0M653.2 59.6h0M654.2 62.5h0M647.6 55.4h0M649.3 55.8h0M652.3 60.6h0M654.9 61.6h0M650.0 58.9h0M650.6 60.1h0M652.0 61.9h0M657.5 65.3h0M656.5 65.5h0M658.5 64.7h0M658.0 64.0h0M656.6 63.6h0M658.3 66.0h0M659.3 65.7h0M662.1 72.1h0M661.4 74.4h0M660.3 72.5h0M661.0 73.6h0M659.6 74.2h0M658.8 74.1h0M662.7 72.8h0M660.4 75.0h0M660.7 74.5h0M660.5 80.3h0M659.6 79.3h0M661.2 81.8h0M662.8 81.4h0M661.3 77.2h0M660.4 78.9h0M661.2 80.1h0M656.7 85.1h0M658.7 84.3h0M659.4 82.2h0M662.0 84.2h0M658.3 84.7h0M659.0 86.3h0M657.7 81.7h0M654.2 89.2h0M653.5 95.0h0M656.7 87.5h0M655.3 87.2h0M654.4 94.3h0M656.8 89.1h0M655.9 89.2h0M654.8 93.2h0M655.6 89.0h0M656.0 86.7h0M653.0 100.8h0M652.9 97.5h0M651.2 98.8h0M651.1 102.4h0M652.3 98.5h0M653.3 99.1h0M649.6 100.3h0M653.0 100.7h0M651.1 101.6h0M644.7 104.8h0M640.7 106.3h0M648.4 102.1h0M651.3 103.5h0M643.6 108.1h0M649.3 101.6h0M648.7 105.3h0M645.9 104.2h0M649.0 103.9h0M644.6 104.7h0M645.0 105.8h0M642.0 105.3h0M644.3 105.1h0M633.9 112.7h0M636.8 111.2h0M639.5 111.8h0M634.0 114.3h0M639.2 109.6h0M635.4 114.0h0M639.6 107.3h0M641.2 109.5h0M637.5 111.3h0M640.9 109.3h0M631.9 113.9h0M632.6 115.9h0M632.8 114.0h0M629.7 116.0h0M633.6 114.0h0M628.8 115.1h0M629.9 117.0h0M625.8 118.5h0M628.6 116.9h0M624.7 119.0h0M633.3 114.1h0M626.6 117.2h0M633.4 115.5h0M622.8 119.7h0M618.4 121.9h0M619.8 123.0h0M625.8 118.0h0M616.2 123.0h0M617.6 122.9h0M620.8 121.0h0M614.5 124.4h0M620.5 120.9h0M615.7 123.8h0M619.9 123.1h0M621.2 121.2h0M619.9 121.1h0M620.6 120.5h0M607.6 125.2h0M606.5 126.0h0M610.1 123.8h0M608.6 125.2h0M605.5 126.0h0M608.1 126.3h0M608.7 126.0h0M609.8 123.9h0M611.7 123.0h0M604.2 125.9h0M602.4 127.2h0M605.2 127.9h0M599.1 129.6h0M597.1 128.8h0M603.4 127.8h0M603.5 128.8h0M599.8 127.8h0M598.6 128.0h0M602.0 127.7h0M600.6 125.1h0M597.2 127.8h0M595.4 130.2h0M592.9 125.2h0M593.4 123.9h0M593.3 126.3h0M589.7 122.4h0M594.0 127.0h0M588.5 121.9h0M591.8 125.5h0M592.4 125.2h0M593.2 127.0h0M594.9 126.6h0M586.1 123.9h0M589.3 121.3h0M582.2 121.7h0M580.4 121.9h0M583.8 123.3h0M587.0 121.6h0M583.1 121.4h0M583.3 122.1h0M590.1 121.8h0M581.2 123.4h0M579.7 122.9h0M580.5 122.1h0M584.7 122.8h0M583.4 123.1h0M585.9 121.6h0M572.1 120.9h0M577.2 121.3h0M571.3 121.7h0M570.2 118.7h0M574.2 120.8h0M567.5 120.6h0M572.5 120.0h0M569.9 121.7h0M575.5 121.8h0M567.8 118.6h0M569.1 121.5h0M577.4 122.6h0M563.7 117.5h0M562.1 116.3h0M564.5 118.7h0M568.7 118.0h0M563.7 115.8h0M562.4 117.5h0M563.9 116.8h0M563.1 116.8h0M562.0 115.2h0M559.5 113.6h0M557.3 108.9h0M559.1 112.8h0M561.5 114.3h0M561.2 111.0h0M559.1 113.1h0M557.3 109.3h0M556.5 111.0h0M557.8 106.9h0M554.8 108.7h0M551.7 109.3h0M551.3 111.2h0M551.1 108.7h0M553.3 108.8h0M556.1 110.0h0M545.0 108.2h0M547.7 107.1h0M546.4 106.6h0M545.8 108.7h0M542.6 106.4h0M547.7 109.3h0M545.7 108.0h0M549.5 108.6h0M548.6 108.2h0M548.2 107.8h0M539.8 104.8h0M536.4 100.6h0M539.2 102.7h0M535.3 100.4h0M537.9 102.3h0M538.0 101.1h0M539.7 102.1h0M539.3 103.1h0M537.6 102.6h0M539.1 105.9h0M537.1 100.7h0M534.5 97.7h0M535.5 96.7h0M531.9 93.9h0M535.1 98.8h0M533.2 96.8h0M534.9 97.7h0M532.1 92.9h0M533.5 94.8h0M530.9 92.5h0M526.4 91.6h0M529.1 92.8h0M531.4 93.1h0M527.4 90.1h0M531.6 93.2h0M531.3 92.4h0M528.7 89.0h0M530.1 93.0h0M532.8 94.8h0M531.0 93.1h0M521.9 89.5h0M519.2 85.4h0M522.6 91.4h0M520.3 90.7h0M520.5 92.0h0M521.8 88.8h0M521.5 88.8h0M518.8 82.4h0M516.7 82.6h0M516.5 83.8h0M518.3 86.4h0M518.5 84.7h0M517.8 86.1h0M525.7 100.7h0M526.1 101.4h0M524.3 101.6h0M525.5 99.5h0M525.3 101.1h0M526.8 100.0h0M525.9 98.9h0M526.0 100.3h0M525.2 101.6h0M600.9 39.1h0M603.1 39.6h0M602.0 40.0h0M601.7 37.9h0M602.4 39.4h0M601.8 37.4h0M600.8 39.6h0M602.2 39.5h0M571.8 42.4h0M572.3 41.9h0M571.3 41.9h0M573.2 42.5h0M572.5 41.7h0M571.7 42.2h0M573.3 42.4h0M572.0 39.8h0M572.3 40.9h0M553.5 115.3h0M556.4 113.7h0M553.9 113.4h0M553.7 115.6h0M556.2 114.5h0M555.8 115.8h0M555.5 113.6h0M553.8 113.0h0M555.6 115.4h0M554.2 111.8h0M554.0 112.0h0M556.8 111.1h0M554.6 114.9h0M556.6 112.5h0M555.0 111.2h0M554.4 111.0h0M556.0 112.5h0M547.8 52.2h0M549.3 52.8h0M548.5 52.1h0M548.3 52.2h0M550.1 52.3h0M652.4 60.0h0M653.1 59.3h0M652.5 60.5h0M651.3 60.1h0M650.2 59.3h0M651.5 59.6h0M653.3 59.9h0M651.3 59.7h0M652.1 60.5h0M652.4 59.1h0M652.5 58.0h0M572.0 39.4h0M572.6 43.1h0M574.4 39.2h0M571.0 41.6h0M572.8 40.0h0M573.9 41.1h0M573.4 41.3h0M571.7 42.4h0M572.4 42.4h0M574.0 41.0h0M573.2 40.9h0M529.4 69.1h0M526.8 66.4h0M529.2 67.7h0M529.8 68.2h0M528.6 67.1h0M527.2 66.9h0M528.0 68.7h0M530.0 66.6h0M529.9 66.0h0M528.9 66.1h0M530.5 66.8h0M530.0 66.7h0M527.1 68.1h0M529.4 68.2h0M527.8 64.7h0M551.3 113.6h0M549.8 112.8h0M549.9 114.5h0M550.7 113.0h0M549.3 116.6h0M547.6 115.0h0M550.0 113.7h0M548.9 116.4h0M550.9 115.3h0M549.7 112.8h0M549.4 116.6h0M550.6 112.8h0M547.1 113.8h0M567.8 46.0h0M568.8 44.5h0M568.9 45.7h0M569.2 44.1h0M568.8 44.7h0M534.3 101.2h0M535.3 100.1h0M533.2 101.4h0M535.5 100.7h0M533.7 99.5h0M533.3 102.0h0M534.8 102.0h0M532.1 101.6h0M532.6 101.5h0M531.8 100.6h0M557.6 116.4h0M555.1 118.0h0M555.5 118.5h0M555.8 116.8h0M557.8 118.0h0M556.5 118.7h0M557.6 117.3h0M556.2 116.2h0M567.6 120.2h0M563.6 120.2h0M563.7 120.3h0M564.3 117.9h0M568.2 119.4h0M567.2 119.8h0M566.5 117.8h0M564.5 117.1h0M567.2 120.7h0M563.4 121.3h0M565.9 122.7h0M565.8 121.6h0M566.5 121.3h0M565.3 119.1h0M566.5 121.9h0M563.5 118.2h0M565.3 122.5h0M565.0 117.4h0M574.4 41.0h0M574.1 41.0h0M576.8 41.5h0M576.5 42.0h0M574.5 40.4h0M574.4 39.6h0M576.6 40.4h0M592.2 39.6h0M591.8 37.1h0M593.6 38.5h0M593.4 38.5h0M593.8 39.1h0M592.2 39.1h0M523.7 93.4h0M524.2 94.5h0M522.1 92.5h0M524.0 94.3h0M520.5 95.1h0M524.2 94.0h0M523.9 95.1h0M520.3 94.9h0M521.0 95.3h0M521.4 94.5h0M521.3 96.0h0M522.8 94.6h0M529.8 63.6h0M532.9 66.5h0M529.8 64.0h0M534.3 66.6h0M531.9 64.7h0M530.8 65.4h0M531.1 62.1h0M530.0 64.7h0M530.4 66.3h0M534.4 66.2h0M533.5 66.6h0M532.9 66.3h0M533.3 66.1h0M530.6 63.5h0M530.7 66.1h0M533.4 63.2h0M530.6 63.6h0M534.1 64.4h0M531.9 63.3h0M559.6 114.2h0M559.1 114.9h0M560.7 116.2h0M560.0 113.9h0M560.9 115.9h0M546.4 53.7h0M547.2 52.6h0M548.7 53.0h0M546.5 53.0h0M548.8 53.7h0M546.5 56.2h0M546.9 53.1h0M547.0 54.5h0M545.9 54.0h0M546.7 55.3h0M548.1 55.4h0M644.1 48.8h0M640.5 49.9h0M640.6 50.1h0M644.9 49.4h0M642.7 51.2h0M644.3 49.9h0M643.1 49.3h0M641.2 51.0h0M642.4 47.9h0M640.7 50.5h0M642.0 51.6h0M643.6 50.3h0M644.8 49.7h0M645.1 51.7h0M644.4 51.8h0M644.8 52.4h0M641.8 53.0h0M525.1 98.3h0M525.2 98.0h0M524.8 97.1h0M523.7 98.1h0M523.5 98.0h0M523.2 98.0h0M656.9 89.1h0M656.7 86.9h0M658.7 88.1h0M658.5 87.6h0M657.4 88.2h0M656.0 88.4h0M643.9 53.1h0M644.1 51.1h0M644.0 53.3h0M643.9 53.1h0M643.9 53.5h0M644.2 52.7h0M518.8 83.1h0M517.7 83.1h0M518.5 81.1h0M518.2 81.9h0M517.8 82.1h0M516.7 80.6h0M517.4 83.1h0M516.3 80.8h0M516.8 80.5h0M533.8 61.7h0M532.3 61.7h0M532.2 62.3h0M534.2 62.6h0M530.5 60.6h0M532.8 59.1h0M533.4 60.9h0M532.8 62.0h0M531.7 63.5h0M534.5 60.2h0M533.5 62.6h0M531.2 60.5h0M533.4 58.4h0M530.5 61.7h0M533.8 59.5h0M533.7 63.8h0M533.1 61.1h0M532.8 59.3h0M546.4 109.4h0M547.3 110.9h0M547.1 111.0h0M547.1 112.3h0M546.2 111.7h0M546.3 109.8h0M545.9 112.2h0M546.0 109.9h0M545.8 110.3h0M546.2 112.4h0M547.4 112.7h0M555.5 46.1h0M554.2 44.7h0M555.1 44.5h0M558.3 44.6h0M556.4 46.5h0M555.5 43.4h0M558.1 45.5h0M554.6 44.8h0M557.9 44.4h0M555.9 44.9h0M557.0 43.5h0M557.6 42.7h0M556.5 47.0h0M555.0 44.6h0M557.0 115.4h0M558.0 116.5h0M558.3 112.6h0M559.1 113.7h0M558.1 112.8h0M558.3 112.8h0M558.4 116.3h0M557.2 115.6h0M557.8 114.4h0M556.3 114.5h0M558.0 112.9h0M534.2 102.9h0M533.7 102.5h0M532.2 103.2h0M532.8 103.1h0M532.8 104.4h0M617.0 123.3h0M614.9 125.8h0M614.0 122.8h0M615.5 123.0h0M615.1 125.4h0M615.0 124.1h0M616.3 123.0h0M613.8 124.3h0M551.7 55.5h0M552.1 54.5h0M550.6 55.5h0M553.3 53.7h0M550.3 55.0h0M551.7 55.8h0M552.4 54.0h0M549.9 55.0h0M551.7 52.5h0M550.2 52.5h0M552.5 53.6h0M549.4 53.6h0M583.5 37.7h0M585.4 37.9h0M584.9 36.3h0M583.6 36.7h0M584.8 37.0h0M584.1 37.7h0M652.1 97.9h0M654.2 99.3h0M651.5 96.6h0M652.7 98.9h0M655.4 97.3h0M654.0 95.9h0M653.0 96.4h0M651.9 98.6h0M654.6 99.3h0M655.6 97.8h0M654.8 95.1h0M652.4 98.3h0M653.4 95.1h0M558.3 112.5h0M555.9 111.6h0M558.9 111.2h0M558.5 110.9h0M557.4 110.7h0M556.8 112.9h0M556.7 109.6h0M556.6 112.0h0M556.4 112.4h0M558.6 111.5h0M560.6 118.7h0M561.2 118.1h0M561.2 115.1h0M560.4 119.5h0M560.4 117.1h0M561.7 115.1h0M561.1 119.9h0M560.0 115.9h0M561.5 116.6h0M559.0 117.8h0M558.1 118.5h0M558.5 116.6h0M561.9 117.4h0M560.9 119.8h0M562.2 119.8h0M559.5 119.1h0M558.2 118.6h0M562.6 116.3h0M540.4 59.8h0M539.6 61.4h0M539.5 60.6h0M540.1 62.1h0M540.5 62.3h0M542.2 61.3h0M539.8 60.4h0M542.6 62.6h0M539.2 61.5h0M540.0 63.3h0M540.9 59.2h0M539.8 59.4h0M539.3 61.1h0M561.0 116.5h0M560.6 116.5h0M561.2 117.6h0M559.9 116.0h0M558.4 115.7h0M558.6 117.3h0M559.0 115.6h0M561.1 117.8h0M561.8 115.5h0M560.7 118.0h0M559.1 116.2h0M626.0 40.4h0M626.0 41.1h0M626.4 41.7h0M626.6 40.7h0M625.8 42.1h0M613.7 42.6h0M614.4 40.6h0M615.0 41.5h0M612.9 41.0h0M613.4 40.6h0M614.7 42.1h0M612.8 42.5h0M564.2 48.9h0M561.7 49.4h0M563.5 47.7h0M563.4 50.4h0M563.2 48.8h0M563.6 49.1h0M563.9 50.9h0M564.3 47.9h0M563.3 47.4h0M563.2 48.9h0M563.7 48.7h0M563.6 49.8h0M571.4 42.8h0M571.0 43.5h0M571.3 44.1h0M570.9 44.1h0M571.1 44.7h0M584.9 40.5h0M586.6 39.4h0M583.1 38.5h0M582.2 38.6h0M585.4 40.3h0M584.0 37.9h0M583.8 37.1h0M585.6 39.6h0M583.9 41.2h0M584.8 37.3h0M585.3 38.8h0M582.7 40.6h0M584.5 38.5h0M523.6 95.8h0M524.6 95.7h0M525.3 93.2h0M524.1 95.7h0M523.9 93.9h0M524.6 94.0h0M523.2 94.2h0M524.2 94.6h0M570.6 46.3h0M570.4 46.3h0M571.1 46.8h0M570.8 47.5h0M570.1 44.9h0M570.9 47.5h0M569.2 43.9h0M567.8 45.5h0M570.8 44.6h0M570.7 45.9h0M569.8 44.2h0M569.2 46.2h0M568.3 46.3h0M521.6 72.6h0M522.4 73.8h0M520.9 72.3h0M521.1 73.3h0M521.0 74.1h0M521.9 73.2h0M644.9 105.3h0M644.2 106.3h0M646.5 106.3h0M644.9 106.4h0M645.3 105.5h0M521.1 94.1h0M522.1 93.8h0M523.5 93.1h0M523.3 91.7h0M520.9 93.8h0M523.2 91.2h0M523.1 92.6h0M522.7 93.4h0M523.6 91.6h0M521.7 93.8h0M657.1 91.3h0M656.5 91.5h0M656.4 91.5h0M658.4 92.2h0M656.9 91.7h0M656.7 92.9h0M562.5 44.3h0M560.5 45.6h0M562.5 46.6h0M561.8 44.5h0M561.1 47.3h0M561.6 47.4h0M560.1 46.4h0M561.6 46.3h0M559.9 45.6h0M561.1 44.5h0M559.6 43.1h0M560.6 46.0h0M561.7 45.5h0M561.7 43.0h0M563.0 45.1h0M560.0 44.1h0M566.8 121.8h0M568.0 121.4h0M566.8 121.9h0M569.1 123.2h0M569.2 124.5h0M565.3 121.0h0M570.0 121.6h0M566.5 120.7h0M568.1 120.0h0M568.8 123.9h0M566.0 123.2h0M567.1 120.0h0M565.4 121.2h0M568.0 121.5h0M568.0 122.7h0M569.1 124.5h0M567.0 123.9h0M542.3 106.1h0M541.9 107.3h0M541.4 109.1h0M542.7 105.6h0M542.2 107.7h0M541.2 108.7h0M540.7 104.2h0M539.4 107.3h0M539.5 106.9h0M539.0 107.2h0M540.8 105.1h0M540.2 106.1h0M542.7 107.0h0M540.8 106.9h0M542.7 107.4h0M543.4 105.7h0M630.1 44.6h0M630.6 42.5h0M629.7 43.6h0M629.2 43.6h0M630.5 44.8h0M631.7 42.7h0M632.1 42.9h0M544.1 112.1h0M545.1 110.1h0M544.8 112.5h0M545.1 110.3h0M545.2 111.4h0M544.1 112.1h0M584.1 38.8h0M584.9 37.3h0M587.3 38.8h0M583.5 36.7h0M584.0 39.4h0M582.8 37.3h0M586.7 35.1h0M585.0 35.1h0M583.3 37.8h0M583.5 36.4h0M586.4 35.0h0M587.6 38.1h0M583.7 35.9h0M585.8 37.0h0M583.6 37.6h0M586.4 37.0h0M584.3 36.9h0M644.8 109.3h0M643.5 108.1h0M644.7 108.1h0M644.7 108.8h0M643.2 109.0h0M644.8 107.4h0M644.3 109.4h0M643.3 110.0h0M529.8 67.1h0M529.5 65.8h0M532.9 66.1h0M531.6 66.0h0M531.2 68.2h0M530.2 65.6h0M530.0 68.5h0M531.0 67.1h0M531.9 67.3h0M550.4 110.3h0M553.2 108.9h0M550.1 107.5h0M550.5 107.0h0M549.0 109.3h0M548.2 109.1h0M549.5 111.5h0M552.2 111.7h0M550.8 110.7h0M553.2 108.8h0M552.8 108.3h0M552.0 107.3h0M549.8 109.1h0M550.2 106.9h0M550.8 108.9h0M552.7 110.3h0M547.8 109.6h0M547.6 54.5h0M548.1 56.1h0M549.3 55.2h0M548.0 54.8h0M547.5 57.2h0M549.7 57.0h0M549.8 56.9h0M549.6 55.4h0M546.8 55.2h0M550.0 55.9h0M528.6 98.0h0M528.8 98.2h0M526.0 96.7h0M526.3 97.3h0M529.0 98.2h0M525.8 96.7h0M525.7 97.1h0M527.5 96.1h0M525.4 98.5h0M527.0 98.2h0M533.1 106.8h0M534.9 105.6h0M533.3 107.3h0M534.5 106.3h0M533.0 106.1h0M532.5 104.9h0M534.0 104.6h0M534.5 105.6h0M532.7 105.5h0M534.7 105.8h0M544.4 113.2h0M542.1 114.0h0M543.4 115.4h0M544.6 114.4h0M543.1 115.7h0M543.7 112.2h0M542.0 112.9h0M543.5 113.4h0M544.7 115.2h0M544.6 112.2h0M553.7 114.0h0M551.7 114.2h0M552.8 114.4h0M555.3 114.6h0M553.2 117.5h0M553.0 115.4h0M552.9 113.9h0M553.8 116.3h0M552.4 114.1h0M552.3 113.0h0M555.9 114.9h0M554.6 114.4h0M553.8 114.3h0M552.9 114.7h0M555.5 116.4h0M561.4 121.8h0M560.4 120.9h0M560.6 120.5h0M561.5 120.0h0M559.5 120.9h0M561.7 121.1h0M583.1 125.8h0M583.1 124.9h0M582.9 126.4h0M581.7 124.7h0M582.2 124.4h0M581.1 126.1h0M586.6 124.6h0M587.4 123.2h0M586.8 122.9h0M586.7 123.9h0M588.0 123.5h0M587.8 123.7h0M642.0 114.1h0M642.5 114.3h0M640.3 112.9h0M641.2 114.6h0M641.5 114.5h0M642.4 114.1h0M652.0 105.7h0M654.2 104.8h0M653.8 103.8h0M653.4 105.3h0M651.7 103.9h0M654.7 105.6h0M653.3 106.7h0M654.0 103.6h0M653.1 105.9h0M655.0 104.7h0M661.3 89.8h0M661.2 90.9h0M660.4 90.2h0M659.9 90.9h0M660.9 89.7h0M661.0 91.1h0M660.4 91.8h0M658.8 89.4h0M661.2 91.3h0M661.2 91.0h0M657.4 96.9h0M657.5 97.0h0M656.4 98.2h0M658.1 97.5h0M656.2 97.3h0M632.3 119.4h0M631.6 120.1h0M631.0 119.8h0M631.2 119.6h0M636.5 116.2h0M637.0 116.9h0M637.5 116.4h0M637.2 116.4h0M532.9 59.7h0M531.5 57.4h0M531.9 60.0h0M532.4 60.3h0M532.5 58.0h0M531.1 59.9h0M531.3 59.1h0M533.2 61.2h0M530.5 58.0h0M532.3 59.0h0M531.6 60.7h0M531.5 59.8h0M533.3 58.3h0M532.5 58.2h0M533.8 58.6h0M542.3 51.9h0M541.5 55.3h0M543.3 54.7h0M538.8 54.3h0M540.8 55.5h0M542.8 52.1h0M541.3 51.6h0M542.4 53.3h0M540.7 53.5h0M540.1 51.7h0M540.2 53.9h0M540.6 53.6h0M540.5 54.1h0M539.2 55.0h0M541.0 51.6h0M527.1 67.8h0M530.1 68.0h0M527.2 66.9h0M529.2 68.5h0M529.0 67.7h0M529.5 68.0h0M529.6 68.8h0M527.0 66.2h0M527.6 67.1h0M528.1 69.2h0M551.9 48.7h0M552.7 49.1h0M553.2 50.2h0M553.7 48.1h0M552.3 48.9h0M554.0 49.6h0M570.3 42.7h0M573.1 42.4h0M573.2 41.2h0M573.7 38.5h0M572.9 41.4h0M571.4 40.4h0M570.5 39.2h0M572.7 39.5h0M571.4 40.1h0M572.8 39.6h0M574.4 39.3h0M574.1 40.0h0M574.9 40.4h0M572.6 43.5h0M572.3 42.0h0M575.0 41.7h0M572.7 42.0h0M572.9 40.0h0M572.7 39.5h0M570.8 43.3h0M574.0 38.7h0M579.3 47.9h0M579.2 47.3h0M576.2 47.4h0M576.0 49.4h0M577.4 50.1h0M578.8 46.5h0M577.5 48.5h0M576.3 49.3h0M578.5 46.6h0M575.5 47.9h0M575.5 47.4h0M575.7 47.4h0M577.5 49.0h0M575.2 49.0h0M578.7 47.7h0M585.1 38.5h0M585.7 39.6h0M586.9 38.6h0M586.9 40.6h0M587.0 40.4h0M588.3 40.2h0M587.6 41.1h0M585.1 38.1h0M584.8 39.5h0M586.2 40.9h0M586.3 38.2h0M586.5 37.4h0M588.6 39.0h0M584.6 38.6h0M586.3 40.8h0M519.8 75.5h0M520.9 74.4h0M522.4 74.6h0M519.5 75.0h0M520.3 74.4h0M521.2 75.1h0M621.3 40.6h0M621.4 40.3h0M621.1 42.2h0M621.4 40.5h0M621.1 41.0h0M622.1 41.3h0M621.9 40.0h0M620.9 42.4h0M621.9 41.6h0M621.5 41.4h0M646.2 58.0h0M645.9 57.9h0M645.9 57.6h0M645.7 56.0h0M645.1 55.9h0M647.4 55.7h0M643.1 56.6h0M644.0 56.3h0M644.0 57.3h0M645.6 55.4h0M643.3 55.6h0M642.9 55.3h0M643.8 55.2h0M646.9 55.5h0M644.8 57.8h0M659.3 66.7h0M658.2 65.9h0M658.8 67.8h0M659.2 68.3h0M657.6 67.7h0M658.8 68.6h0M657.2 67.3h0M659.3 66.1h0M660.5 66.8h0M658.5 67.9h0" stroke="#929292" stroke-width="2.1" stroke-linecap="round" fill="none" opacity="1"/>
<path d="M619.2 76.6h0M615.0 59.6h0M640.8 60.4h0M642.2 76.7h0M573.7 89.8h0M591.5 87.0h0M597.0 124.8h0M623.6 44.2h0M540.8 82.1h0M609.8 115.8h0M601.4 121.1h0M613.5 58.1h0M569.5 80.6h0M585.6 54.3h0M586.9 111.2h0M555.0 90.7h0M542.5 83.0h0M615.6 56.9h0M615.7 90.6h0M581.6 83.4h0M609.4 45.2h0M594.4 53.9h0M553.6 107.6h0M580.3 49.3h0M606.0 77.3h0M593.7 101.6h0M637.6 109.3h0M551.4 108.8h0M589.2 52.8h0M597.1 62.2h0M652.9 76.2h0M581.2 107.7h0M587.0 73.0h0M649.8 100.2h0M561.4 84.9h0M567.2 72.3h0M585.5 83.6h0M552.1 73.4h0M551.3 91.7h0M578.0 99.8h0M577.2 109.2h0M595.6 45.4h0M587.0 59.3h0M585.2 105.0h0M537.9 94.7h0M622.3 97.8h0M628.9 107.6h0M549.3 83.3h0M632.0 92.2h0M591.8 52.9h0M591.7 91.5h0M582.3 95.3h0M597.5 96.2h0M575.1 114.7h0M592.8 118.3h0M627.9 100.4h0M595.8 58.8h0M551.4 93.1h0M595.4 92.6h0M577.8 58.0h0M559.5 101.0h0M644.5 65.5h0M560.9 77.6h0M577.8 94.9h0M625.5 107.7h0M633.3 103.7h0M657.1 77.7h0M580.4 96.7h0M561.0 113.5h0M576.1 87.8h0M591.0 69.7h0M613.5 112.9h0M636.9 52.3h0M588.8 44.4h0M570.5 82.1h0M634.5 62.7h0M612.5 48.8h0M600.0 90.6h0M619.3 75.0h0M598.1 117.6h0M541.4 63.0h0M595.7 91.8h0M583.4 54.8h0M626.5 94.6h0M640.0 87.3h0M552.4 79.7h0M583.2 68.6h0M599.9 49.5h0M519.1 84.9h0M622.9 73.3h0M646.9 92.7h0M611.3 62.4h0M646.4 68.2h0M638.6 58.4h0M541.2 104.3h0M537.8 71.7h0M570.4 67.0h0M568.0 50.6h0M631.4 68.8h0M619.1 75.7h0M618.2 114.5h0M575.5 91.2h0M563.0 94.0h0M526.0 75.2h0M586.0 114.6h0M607.5 49.4h0M612.5 57.6h0M605.3 74.4h0M654.8 77.7h0M554.8 64.6h0M655.0 68.3h0M550.6 85.8h0M620.7 82.1h0M616.1 98.9h0M541.0 64.1h0M541.7 62.5h0M591.7 106.7h0M621.5 43.0h0M535.6 81.6h0M558.5 109.3h0M589.1 84.7h0M635.0 72.1h0M578.2 86.2h0M622.2 92.0h0M584.9 51.7h0M608.9 77.2h0M626.6 80.5h0M556.9 109.0h0M591.2 62.8h0M594.6 124.0h0M593.9 99.6h0M530.4 76.5h0M604.4 73.9h0M610.5 67.8h0M610.8 55.1h0M586.6 75.7h0M592.0 40.7h0M550.5 102.8h0M539.4 80.3h0M622.3 108.0h0M656.6 71.9h0M572.9 106.5h0M518.8 79.6h0M554.8 87.8h0M622.1 116.4h0M589.2 100.5h0M650.9 93.3h0M586.7 83.5h0M575.3 52.3h0M605.0 113.6h0M610.2 52.4h0M589.4 78.7h0M612.5 59.2h0M654.1 75.3h0M609.9 79.3h0M624.2 105.1h0M622.1 105.8h0M602.8 46.5h0M623.8 52.0h0M631.7 94.0h0M608.1 42.6h0M568.4 104.4h0M575.5 115.6h0M607.1 57.1h0M638.2 101.4h0M545.3 106.1h0M622.3 107.2h0M647.9 88.7h0M610.0 113.7h0M626.1 82.8h0M657.8 78.9h0M580.3 95.4h0M630.3 90.7h0M652.6 61.0h0M602.9 93.8h0M655.3 88.0h0M620.9 106.9h0M539.7 98.2h0M579.2 55.8h0M555.2 69.6h0M622.4 87.4h0M630.1 106.4h0M637.3 109.4h0M582.7 63.4h0M635.5 54.7h0M603.7 92.3h0M594.3 42.1h0M597.0 84.7h0M559.6 56.5h0M537.9 80.9h0M568.7 90.5h0M613.6 61.5h0M603.8 59.8h0M624.0 54.7h0M601.9 104.7h0M631.9 85.4h0M630.9 69.2h0M554.0 94.4h0M632.9 85.5h0M564.9 65.6h0M642.5 63.5h0M570.7 108.3h0M526.9 80.0h0M649.1 67.3h0M614.1 42.9h0M648.9 85.4h0M589.2 109.1h0M607.8 88.7h0M527.0 76.1h0M602.0 90.5h0M573.4 68.4h0M569.4 92.0h0M577.0 68.7h0M651.3 93.9h0M543.9 78.6h0M589.4 86.1h0M546.2 90.3h0M560.6 101.6h0M580.7 51.7h0M557.6 94.5h0M547.4 74.1h0M525.7 78.4h0M541.1 86.9h0M608.6 48.9h0M547.1 92.3h0M616.6 117.1h0M546.2 64.6h0M602.8 93.4h0M606.6 87.5h0M549.3 57.9h0M600.0 43.6h0M571.1 69.4h0M580.6 80.8h0M644.5 82.5h0M632.2 68.7h0M625.1 108.6h0M566.5 105.1h0M566.4 51.8h0M576.3 46.2h0M620.0 59.2h0M587.8 111.5h0M602.5 120.9h0M621.1 100.6h0M623.3 100.4h0M649.3 91.4h0M611.6 87.2h0M593.1 124.0h0M558.9 53.4h0M588.3 64.8h0M619.4 95.3h0M605.6 72.7h0M614.4 79.6h0M605.1 93.2h0M604.6 83.0h0M642.5 76.4h0M633.9 98.2h0M586.0 119.1h0M620.6 90.7h0M557.7 93.3h0M625.1 63.1h0" stroke="#b6b6b6" stroke-width="1.0" stroke-linecap="round" fill="none" opacity="1"/>
<path d="M621.1 61.8h0M552.9 89.1h0M634.1 47.1h0M567.8 85.8h0M622.7 67.7h0M608.6 125.0h0M582.3 109.7h0M597.5 97.5h0M600.7 103.6h0M561.0 74.5h0M563.8 51.5h0M605.1 69.8h0M638.9 91.8h0M604.8 121.5h0M597.0 56.6h0M617.2 68.9h0M591.1 40.9h0M627.9 102.8h0M533.9 85.4h0M580.9 86.7h0M610.6 122.6h0M564.1 68.4h0M545.7 104.8h0M568.8 55.4h0M543.2 75.0h0M637.3 76.7h0M634.0 79.8h0M600.1 59.5h0M574.9 103.6h0M527.4 78.2h0M552.0 62.8h0M564.5 54.1h0M599.3 39.3h0M549.9 60.3h0M615.4 118.9h0M560.9 83.3h0M642.8 55.3h0M561.7 51.9h0M579.3 56.2h0M619.5 104.7h0M594.7 81.2h0M634.4 58.3h0M623.3 97.7h0M558.6 108.0h0M593.9 81.4h0M592.0 121.8h0M637.1 72.6h0M639.6 52.0h0M566.1 65.7h0M634.6 80.6h0M628.0 63.1h0M528.9 75.7h0M599.6 47.4h0M570.2 87.8h0M623.9 73.8h0M624.7 43.0h0M648.8 86.7h0M567.1 109.8h0M620.3 88.8h0M571.7 64.9h0M634.3 109.1h0M598.4 101.8h0M619.3 66.8h0M579.1 111.9h0M618.4 79.0h0M644.2 53.8h0M574.7 63.0h0M587.9 106.4h0M622.3 104.8h0M528.4 73.8h0M586.6 45.4h0M646.8 70.5h0M593.5 67.1h0M653.6 95.1h0M577.9 50.3h0M604.5 82.0h0M589.1 74.1h0M561.2 66.7h0M578.2 63.3h0M626.1 44.5h0M596.3 102.7h0M565.3 104.1h0M567.0 94.0h0M597.0 93.0h0M593.9 116.8h0M554.8 55.1h0M605.8 57.3h0M606.4 118.4h0M627.8 90.9h0M554.3 71.3h0M608.7 94.7h0M563.2 57.2h0M607.4 97.1h0M607.1 121.1h0M529.7 70.3h0M648.6 79.5h0M631.9 52.7h0M566.9 110.6h0M557.9 104.1h0M602.7 97.1h0M658.9 70.8h0M601.3 100.9h0M585.8 94.1h0M572.0 61.3h0M557.6 56.9h0M616.5 43.7h0M532.2 83.2h0M612.8 105.2h0M545.3 83.5h0M532.7 68.0h0M584.5 56.0h0M561.5 104.5h0M630.0 101.5h0M576.9 89.4h0M650.9 89.2h0M518.8 77.6h0M642.4 102.1h0M625.6 56.6h0M617.6 117.3h0M578.2 115.2h0M559.5 56.0h0M611.2 110.3h0M610.0 121.0h0M573.7 110.0h0M642.6 85.3h0M623.1 112.4h0M591.1 99.4h0M618.4 112.2h0M625.7 51.0h0M537.7 97.3h0M606.1 50.5h0M647.7 55.8h0M595.4 121.5h0M579.9 74.2h0M653.9 65.7h0M601.5 74.4h0M587.2 110.9h0M570.3 71.8h0M550.1 105.3h0M567.3 107.5h0M611.5 42.1h0M583.7 75.3h0M582.2 87.7h0M616.0 73.3h0M591.0 113.3h0M614.6 53.7h0M654.1 71.9h0M617.2 70.2h0M623.9 82.7h0M654.3 82.6h0M608.1 99.9h0M607.1 52.2h0M598.1 75.8h0M614.5 108.3h0M545.2 70.3h0M586.7 77.8h0M640.6 82.8h0M533.6 70.5h0M527.4 73.1h0M581.0 80.6h0M658.0 85.6h0M614.4 84.0h0M574.9 81.9h0M575.0 99.2h0M601.7 40.1h0M587.5 59.0h0M600.2 79.0h0M623.5 93.6h0M589.3 46.1h0M621.8 54.0h0M570.6 90.4h0M594.9 126.9h0M518.4 79.1h0M562.3 89.5h0M609.8 91.0h0M652.4 76.9h0M569.2 106.0h0M596.1 60.8h0M526.0 86.1h0M634.4 92.9h0M589.8 62.8h0M539.2 77.1h0M636.8 87.6h0M594.5 91.1h0M576.1 120.8h0M636.8 52.3h0M646.8 99.2h0M567.7 105.5h0M576.7 100.7h0M588.8 94.8h0M585.3 71.9h0M619.6 98.2h0M529.0 83.4h0M555.9 96.4h0M539.5 63.5h0M551.9 61.9h0M597.7 116.6h0M608.8 96.3h0M626.4 72.2h0M577.6 96.7h0" stroke="#828282" stroke-width="1.0" stroke-linecap="round" fill="none" opacity="1"/>
<polygon points="524.8,198.0 530.7,192.2 536.5,186.4 541.2,179.4 545.9,172.4 552.9,167.7 561.0,163.0 568.1,160.7 573.9,158.3 582.0,157.3 591.4,156.2 597.0,155.8 605.2,156.2 609.9,157.2 615.7,160.7 620.4,164.2 625.0,168.9 629.7,171.2 635.5,177.0 644.9,179.4 650.7,182.9 653.1,187.5 655.4,192.2 660.0,198.0 662.4,202.7 655.4,203.7 644.9,204.8 641.4,208.3 639.0,216.5 639.0,228.2 634.4,235.2 625.0,239.9 613.4,241.5 601.7,243.5 590.0,244.5 577.4,241.5 566.9,238.7 558.7,234.0 551.7,231.7 545.9,227.0 542.4,221.2 535.4,223.5 528.4,221.2 528.4,214.2 521.3,210.7 519.0,206.0" fill="#959595" stroke="#959595" stroke-width="1" stroke-linejoin="round"/>
<path d="M532.3 192.0h0M524.4 196.9h0M528.4 195.4h0M527.6 196.5h0M526.3 198.7h0M525.7 195.4h0M528.6 196.5h0M527.5 193.4h0M529.4 193.7h0M531.5 189.4h0M533.5 191.0h0M533.9 187.4h0M534.7 189.0h0M532.8 189.7h0M531.6 191.7h0M530.6 189.8h0M532.1 190.9h0M532.7 189.2h0M539.1 185.7h0M540.2 180.8h0M540.2 181.9h0M542.3 182.1h0M536.6 186.1h0M539.3 178.2h0M541.5 180.4h0M541.1 178.6h0M540.6 180.0h0M536.2 186.0h0M546.3 172.7h0M541.1 178.6h0M544.0 174.9h0M544.1 175.8h0M544.2 175.9h0M545.0 172.2h0M545.1 173.3h0M542.0 178.7h0M543.6 173.6h0M546.2 174.5h0M546.5 170.1h0M548.0 171.1h0M549.1 169.6h0M548.8 170.0h0M551.9 169.0h0M552.7 170.3h0M547.1 170.9h0M548.7 170.5h0M549.3 169.3h0M548.5 169.4h0M555.7 166.0h0M560.8 162.7h0M558.6 162.8h0M554.9 167.2h0M556.2 166.1h0M554.4 166.8h0M556.0 165.2h0M555.7 166.8h0M555.7 165.5h0M553.3 167.3h0M555.6 165.7h0M563.3 161.8h0M567.8 160.5h0M566.6 162.1h0M562.3 162.3h0M565.0 162.2h0M565.0 163.4h0M567.0 163.9h0M567.6 161.1h0M572.7 160.5h0M570.5 158.3h0M573.2 157.6h0M571.3 159.8h0M569.1 159.9h0M570.0 160.9h0M571.9 158.6h0M575.9 156.6h0M580.6 159.3h0M582.4 157.3h0M577.3 156.1h0M573.0 159.2h0M579.4 157.4h0M578.0 158.2h0M578.0 156.7h0M577.3 158.8h0M587.7 156.8h0M587.4 155.2h0M586.3 156.0h0M590.2 155.3h0M587.9 156.7h0M589.1 157.0h0M583.5 157.4h0M591.1 154.7h0M588.2 157.2h0M588.9 157.2h0M586.3 156.6h0M591.2 156.3h0M594.5 157.2h0M594.6 155.1h0M590.9 158.4h0M592.7 157.2h0M594.7 155.2h0M606.6 156.4h0M602.1 155.7h0M604.1 155.6h0M600.2 154.6h0M598.1 155.5h0M598.1 154.3h0M604.0 155.3h0M596.4 154.5h0M602.8 155.6h0M608.6 156.6h0M609.4 157.6h0M605.2 155.8h0M611.6 157.2h0M607.6 156.4h0M614.2 159.6h0M613.7 161.0h0M613.7 158.4h0M615.6 160.6h0M612.3 158.3h0M611.7 156.2h0M611.6 158.7h0M614.8 159.9h0M618.5 161.3h0M616.3 161.3h0M619.9 162.8h0M619.2 161.4h0M620.6 163.8h0M617.7 163.0h0M619.8 162.3h0M620.9 165.6h0M623.9 168.5h0M622.9 167.1h0M624.9 166.9h0M624.5 168.7h0M623.4 166.1h0M621.4 164.1h0M626.8 171.0h0M627.5 170.3h0M627.5 169.0h0M627.0 171.6h0M627.6 167.7h0M626.2 167.6h0M635.0 176.2h0M632.4 173.8h0M633.7 175.0h0M630.2 173.2h0M634.1 173.8h0M631.6 173.1h0M631.9 172.2h0M631.7 174.0h0M629.3 172.0h0M635.3 177.3h0M644.5 177.8h0M643.4 179.5h0M641.6 181.3h0M640.1 177.5h0M635.3 176.1h0M640.3 176.4h0M644.8 178.3h0M636.7 175.7h0M641.7 179.8h0M641.2 178.1h0M646.4 182.3h0M646.0 180.0h0M643.7 180.6h0M648.2 181.5h0M645.3 179.8h0M647.4 179.6h0M650.0 180.2h0M649.0 183.2h0M652.9 184.9h0M653.3 185.7h0M653.3 186.2h0M654.1 185.2h0M652.0 187.0h0M652.4 186.2h0M654.7 191.4h0M653.9 191.3h0M654.9 192.5h0M652.7 187.6h0M655.4 191.7h0M655.0 189.3h0M660.2 197.3h0M659.3 197.8h0M658.1 196.5h0M656.1 193.3h0M660.8 197.8h0M656.4 193.4h0M657.1 194.1h0M656.8 195.6h0M663.3 201.9h0M660.7 198.7h0M660.4 198.8h0M660.9 199.5h0M660.9 201.8h0M661.3 200.1h0M662.0 202.6h0M657.5 201.8h0M661.7 203.2h0M660.0 203.6h0M654.3 203.2h0M657.6 202.0h0M660.5 204.1h0M656.2 202.7h0M644.5 204.2h0M647.3 205.3h0M647.8 205.4h0M649.9 203.5h0M646.0 205.1h0M650.2 205.3h0M655.3 204.5h0M654.8 204.7h0M655.1 201.8h0M655.3 203.2h0M649.3 205.1h0M645.6 205.3h0M644.8 204.6h0M645.7 204.4h0M642.1 208.0h0M643.0 207.4h0M643.1 207.4h0M638.4 211.8h0M638.5 212.5h0M641.5 208.2h0M638.3 215.4h0M639.8 209.3h0M639.8 215.5h0M641.2 212.5h0M638.8 215.7h0M640.4 208.0h0M638.8 215.1h0M640.6 218.8h0M638.5 226.2h0M639.4 224.2h0M638.4 221.9h0M638.4 220.5h0M639.5 228.2h0M638.5 220.8h0M639.7 227.5h0M637.9 221.0h0M639.6 224.8h0M639.3 219.9h0M639.6 221.2h0M640.1 217.7h0M639.0 217.1h0M637.5 230.1h0M638.6 231.2h0M638.3 230.2h0M634.7 234.7h0M635.9 231.6h0M637.5 229.7h0M639.2 230.9h0M638.2 229.3h0M635.5 232.8h0M636.3 234.8h0M626.8 238.8h0M631.9 236.7h0M627.6 237.7h0M627.4 239.5h0M633.5 237.7h0M629.6 235.5h0M626.5 240.3h0M631.9 236.7h0M626.9 239.9h0M627.1 238.0h0M626.9 236.8h0M631.0 236.9h0M622.0 239.9h0M616.2 244.0h0M621.5 238.6h0M620.1 240.1h0M619.2 241.1h0M619.9 241.9h0M617.9 240.6h0M614.1 240.1h0M618.3 241.3h0M616.8 241.1h0M622.7 240.4h0M620.0 241.2h0M622.8 241.3h0M621.6 241.5h0M604.6 243.1h0M609.3 241.5h0M610.6 242.0h0M603.9 242.9h0M611.4 240.9h0M605.0 244.3h0M604.5 243.7h0M606.5 242.7h0M604.7 243.7h0M613.2 241.8h0M612.0 241.8h0M612.4 241.7h0M609.8 241.7h0M615.2 240.5h0M598.2 242.6h0M598.0 243.6h0M598.2 243.9h0M600.7 243.6h0M598.7 243.8h0M590.8 246.3h0M596.8 243.6h0M596.1 245.3h0M592.3 245.1h0M600.2 243.9h0M600.5 244.6h0M590.1 243.0h0M597.4 244.8h0M599.8 243.8h0M579.4 242.1h0M587.1 243.5h0M583.4 241.9h0M588.3 243.9h0M579.2 239.8h0M578.1 242.9h0M583.2 242.6h0M578.8 243.1h0M591.1 245.0h0M583.5 245.5h0M581.6 243.4h0M583.3 242.6h0M587.8 243.2h0M582.5 241.3h0M588.0 242.8h0M574.6 243.9h0M569.5 238.5h0M569.4 240.7h0M570.1 242.1h0M573.9 240.6h0M576.2 242.3h0M574.2 241.2h0M571.0 238.8h0M576.9 241.9h0M572.0 241.1h0M577.5 240.9h0M571.3 237.0h0M572.1 240.2h0M562.1 234.3h0M560.2 234.8h0M561.9 236.9h0M561.8 236.0h0M559.2 235.3h0M565.4 238.5h0M562.4 235.8h0M560.8 234.2h0M561.4 233.9h0M561.8 234.9h0M564.2 237.9h0M554.5 232.7h0M558.8 233.9h0M556.3 232.4h0M554.3 231.9h0M558.1 232.1h0M557.1 235.1h0M554.3 233.2h0M554.2 232.6h0M549.2 232.6h0M551.5 232.4h0M547.0 228.9h0M550.8 230.8h0M550.2 229.1h0M548.9 230.5h0M548.0 228.3h0M551.2 232.0h0M544.4 224.5h0M545.1 224.1h0M544.2 226.7h0M545.1 227.2h0M545.8 224.8h0M545.1 227.5h0M544.4 223.8h0M543.8 223.7h0M537.6 222.3h0M542.6 222.5h0M542.4 221.2h0M537.5 222.0h0M537.5 224.6h0M539.4 221.1h0M537.4 222.4h0M543.0 222.7h0M530.6 222.4h0M536.4 222.9h0M529.2 222.2h0M530.4 222.0h0M535.0 221.9h0M533.8 223.7h0M535.2 222.8h0M531.5 220.8h0M529.0 218.0h0M526.9 219.7h0M530.6 221.3h0M528.3 220.0h0M529.1 213.6h0M528.1 216.6h0M529.7 221.0h0M528.0 215.5h0M527.9 216.4h0M522.3 212.4h0M520.7 210.8h0M525.3 213.5h0M527.4 213.9h0M528.2 212.9h0M525.6 214.9h0M525.7 214.1h0M521.2 210.3h0M518.5 209.6h0M520.9 210.6h0M519.7 205.5h0M522.0 208.6h0M521.2 210.8h0M521.7 211.0h0M521.8 200.7h0M524.2 198.1h0M522.8 200.4h0M521.6 206.0h0M523.9 200.8h0M519.6 200.7h0M520.6 202.4h0M522.5 198.8h0M522.1 199.7h0M520.0 203.3h0M522.4 199.8h0M611.7 242.7h0M613.1 242.3h0M610.1 240.5h0M613.5 242.5h0M610.6 244.4h0M611.3 241.9h0M611.6 242.5h0M609.7 244.2h0M613.4 241.0h0M612.7 241.3h0M609.9 243.5h0M610.3 242.5h0M610.3 244.0h0M613.6 242.9h0M613.4 243.4h0M612.6 243.1h0M646.1 204.9h0M646.2 205.2h0M648.8 206.1h0M649.1 206.1h0M647.2 207.9h0M646.2 207.5h0M645.9 207.4h0M647.4 206.7h0M646.7 208.0h0M648.1 204.9h0M649.0 205.2h0M648.0 207.1h0M552.0 235.0h0M553.1 234.1h0M552.3 235.5h0M554.0 236.0h0M554.2 234.1h0M552.7 235.8h0M553.7 237.3h0M553.9 236.4h0M554.3 236.1h0M541.9 229.2h0M541.8 230.6h0M542.9 230.0h0M543.3 229.6h0M542.7 229.7h0M614.8 240.5h0M616.4 242.0h0M615.7 241.5h0M614.8 240.8h0M616.5 241.1h0M615.0 241.1h0M615.5 241.7h0M608.7 244.7h0M610.4 245.6h0M609.9 245.9h0M609.6 244.0h0M609.2 245.0h0M608.6 245.6h0M525.4 197.9h0M525.8 195.2h0M526.8 196.1h0M525.4 197.9h0M526.1 197.2h0M524.5 195.9h0M526.2 197.0h0M525.8 195.6h0M523.8 196.5h0M642.1 227.3h0M642.4 228.8h0M643.7 228.0h0M640.9 226.3h0M641.0 226.5h0M642.8 226.5h0M641.9 228.5h0M641.6 229.5h0M640.2 228.1h0M640.8 227.6h0M641.9 227.2h0M640.9 227.6h0M545.1 230.1h0M546.1 228.6h0M545.6 229.7h0M544.7 230.5h0M546.0 229.2h0M545.1 228.7h0M543.9 228.4h0M633.5 169.5h0M632.8 172.1h0M631.7 172.7h0M633.5 169.7h0M634.7 172.4h0M633.2 170.6h0M634.2 169.7h0M632.4 173.4h0M635.2 172.4h0M635.3 171.2h0M632.3 173.8h0M635.1 171.9h0M634.7 172.4h0M648.9 207.2h0M648.4 205.6h0M651.3 206.0h0M648.7 207.1h0M650.2 204.4h0M652.2 206.3h0M649.6 206.2h0M650.6 206.8h0M648.9 205.4h0M652.4 207.2h0M649.5 204.8h0M650.2 208.0h0M648.9 206.2h0M541.9 224.5h0M540.6 224.4h0M542.6 225.5h0M540.8 226.6h0M540.8 224.1h0M541.4 225.9h0M541.9 223.8h0M540.5 226.5h0M542.4 174.4h0M542.3 176.9h0M542.5 176.3h0M543.2 174.3h0M542.7 175.2h0M543.6 175.4h0M542.1 175.3h0M542.1 177.0h0M593.5 243.9h0M591.9 246.2h0M592.3 246.2h0M592.0 245.9h0M591.6 243.9h0M592.4 245.3h0M641.1 227.5h0M640.8 227.3h0M642.1 227.8h0M643.2 228.3h0M640.9 226.6h0M642.5 228.6h0M641.4 227.4h0M641.9 226.5h0M642.4 228.9h0M584.6 245.0h0M586.5 244.7h0M584.2 244.8h0M586.7 244.7h0M586.0 245.0h0M585.7 245.1h0M646.4 216.6h0M642.9 217.6h0M644.9 215.0h0M645.1 219.1h0M644.2 214.6h0M646.0 217.4h0M642.9 215.0h0M644.4 217.3h0M644.2 214.3h0M642.6 216.0h0M643.9 217.9h0M645.2 217.2h0M645.2 214.4h0M643.0 215.8h0M533.9 183.3h0M536.8 182.5h0M534.1 183.6h0M535.8 181.7h0M534.3 183.8h0M535.3 181.6h0M534.9 183.8h0M535.5 183.5h0M535.0 181.4h0M520.6 211.9h0M522.0 213.5h0M520.7 212.0h0M520.5 210.4h0M520.1 211.8h0M522.2 210.2h0M520.1 212.1h0M521.9 212.4h0M648.3 215.5h0M649.1 216.1h0M649.1 215.9h0M648.7 217.4h0M648.0 214.3h0M646.6 216.7h0M650.5 216.9h0M648.9 215.6h0M649.0 213.4h0M647.4 214.5h0M649.9 217.2h0M647.7 218.1h0M649.4 212.8h0M649.4 217.0h0M647.9 216.1h0M646.5 215.7h0M648.3 216.6h0M650.0 215.7h0M588.3 246.8h0M589.0 247.8h0M590.7 245.6h0M588.5 244.2h0M587.5 245.2h0M588.0 244.8h0M589.9 245.2h0M586.6 243.7h0M590.1 244.2h0M587.1 244.5h0M586.1 245.1h0M587.3 247.8h0M586.5 243.9h0M589.3 247.0h0M558.3 234.7h0M557.7 235.4h0M559.1 236.7h0M557.6 236.5h0M558.0 236.1h0M560.8 234.8h0M561.0 235.4h0M558.8 234.8h0M559.5 237.8h0M558.3 234.3h0M632.0 171.4h0M634.1 172.3h0M635.0 171.4h0M634.2 170.6h0M631.6 171.8h0M631.0 173.1h0M631.6 173.0h0M635.1 173.2h0M633.6 173.1h0M632.8 172.9h0M635.5 174.5h0M633.8 174.4h0M633.4 172.5h0M634.6 171.6h0M530.1 223.6h0M531.1 224.1h0M534.0 223.9h0M531.7 221.4h0M531.3 225.4h0M532.4 224.7h0M534.3 223.9h0M532.1 220.8h0M531.2 223.5h0M533.1 224.7h0M530.4 223.2h0M530.8 222.5h0M533.0 220.9h0M533.1 224.0h0M533.4 224.1h0M530.8 223.2h0M643.1 211.4h0M643.8 211.1h0M642.2 211.4h0M643.1 211.9h0M642.9 212.7h0M653.5 208.6h0M653.7 210.3h0M654.4 209.6h0M654.4 209.3h0M654.0 210.1h0M651.8 210.5h0M652.9 212.2h0M654.6 211.7h0M655.4 210.8h0M653.5 212.2h0M536.1 185.9h0M534.3 185.0h0M536.3 185.6h0M535.3 186.9h0M534.2 185.2h0M536.4 184.2h0M535.0 184.4h0M536.3 185.1h0M534.9 185.9h0M554.0 233.2h0M555.2 234.6h0M555.6 232.5h0M554.2 233.8h0M555.2 233.5h0M554.6 233.6h0M646.2 215.6h0M645.9 213.6h0M647.8 215.3h0M644.3 216.6h0M644.3 215.6h0M643.8 217.3h0M645.4 214.4h0M645.7 215.5h0M645.9 214.2h0M644.0 218.0h0M645.9 217.4h0M648.1 215.8h0M645.7 218.4h0M647.5 214.8h0M645.7 217.5h0M644.1 215.9h0M538.8 182.4h0M538.3 182.7h0M538.3 182.5h0M537.8 183.7h0M537.1 182.6h0M532.2 185.0h0M529.6 184.2h0M529.8 186.6h0M532.0 186.4h0M530.9 185.3h0M529.1 185.5h0M529.7 186.1h0M532.3 185.1h0M531.7 186.1h0M529.4 185.9h0M537.3 180.4h0M537.7 181.8h0M536.5 181.8h0M537.0 181.0h0M537.1 181.2h0M538.0 182.2h0M539.1 175.2h0M539.4 175.5h0M538.3 176.1h0M539.2 175.2h0M538.7 176.2h0M528.8 192.9h0M529.0 192.2h0M529.6 191.4h0M529.5 190.2h0M528.2 192.1h0M529.8 192.1h0M547.0 168.7h0M547.9 170.3h0M547.1 168.7h0M546.7 168.5h0M546.2 169.9h0M547.2 170.9h0M632.0 169.5h0M634.6 169.7h0M634.1 171.0h0M633.5 170.8h0M634.5 171.6h0M632.5 169.7h0M633.6 170.4h0M631.2 170.6h0M634.8 169.6h0M632.4 169.1h0M645.3 184.6h0M644.1 185.3h0M646.2 184.2h0M646.2 184.4h0M645.2 185.7h0M644.8 184.9h0M650.4 186.8h0M648.8 187.5h0M649.6 186.3h0M648.8 185.4h0M648.6 185.2h0M649.5 185.3h0M653.0 189.2h0M653.4 188.7h0M654.0 187.5h0M652.7 188.4h0M653.6 188.9h0M541.5 225.3h0M539.8 227.4h0M539.5 226.6h0M541.5 227.2h0M540.7 227.8h0M540.4 227.7h0M543.9 231.2h0M543.7 230.7h0M543.5 230.7h0M542.0 231.2h0M548.4 233.9h0M548.4 232.9h0M549.1 232.7h0M549.0 232.4h0M547.1 233.1h0M547.9 232.3h0M555.2 237.4h0M553.6 237.8h0M554.1 237.7h0M553.9 236.9h0M554.8 237.0h0M554.4 238.1h0M561.4 239.2h0M563.2 239.8h0M562.1 238.1h0M562.3 239.0h0M562.8 239.4h0M561.7 238.3h0M567.4 242.7h0M567.9 243.0h0M567.4 243.1h0M568.3 242.4h0M583.8 246.9h0M581.2 245.0h0M581.4 246.6h0M582.3 245.4h0M581.8 247.0h0M582.2 246.9h0M581.6 246.1h0M583.2 244.8h0M581.4 246.6h0M580.6 244.9h0M647.4 206.0h0M647.3 206.0h0M648.7 207.1h0M649.6 206.5h0M649.1 206.2h0M647.9 206.5h0M646.9 208.0h0M647.5 208.5h0M650.6 207.9h0M648.7 205.3h0M648.0 205.6h0M646.4 206.0h0M648.1 207.0h0M648.9 207.9h0M648.9 205.7h0M650.6 213.5h0M653.2 213.9h0M650.5 211.2h0M650.0 214.3h0M650.9 213.7h0M653.2 212.9h0M652.4 212.3h0M651.5 211.3h0M652.5 212.6h0M653.9 213.3h0M652.7 213.3h0M652.8 215.1h0M653.6 214.4h0M650.9 211.2h0M650.6 213.0h0M654.2 213.3h0M655.5 213.9h0M656.0 213.3h0M655.6 212.3h0M655.1 214.0h0M656.4 215.1h0M654.2 215.6h0M654.5 212.4h0M655.2 213.9h0M656.7 214.9h0M643.5 218.7h0M646.3 221.9h0M643.1 219.2h0M644.1 221.0h0M642.1 223.3h0M641.1 222.5h0M644.1 224.0h0M642.2 219.3h0M646.6 220.9h0M644.9 223.8h0M645.7 222.4h0M645.3 222.1h0M645.8 219.8h0M643.4 220.1h0M646.0 219.9h0M643.2 219.2h0M643.6 223.7h0M641.8 220.6h0M644.7 219.6h0M641.3 219.5h0M644.6 222.8h0M649.1 223.8h0M648.9 224.2h0M647.4 223.6h0M647.0 221.9h0M645.9 223.2h0M647.5 224.0h0M645.6 223.0h0M646.3 224.3h0M646.8 224.2h0M646.1 222.6h0M645.1 227.9h0M644.0 227.9h0M644.7 228.8h0M644.4 228.3h0M644.2 231.2h0M644.5 230.2h0M644.0 230.8h0M644.2 230.4h0M609.7 246.2h0M610.2 243.3h0M611.9 246.1h0M612.8 244.2h0M609.2 246.7h0M611.9 244.7h0M608.6 244.8h0M610.6 244.3h0M612.0 244.3h0M612.2 244.1h0M610.7 243.9h0M610.2 246.9h0M609.2 245.9h0M611.6 244.5h0M610.0 246.0h0M594.0 246.8h0M595.0 246.5h0M593.4 246.6h0M594.0 246.3h0M594.3 245.5h0M594.0 247.6h0M634.7 236.7h0M634.9 236.3h0M635.9 236.4h0M635.1 237.0h0" stroke="#929292" stroke-width="2.1" stroke-linecap="round" fill="none" opacity="1"/>
<path d="M650.6 187.5h0M631.2 185.6h0M577.7 238.8h0M611.2 171.8h0M598.5 234.0h0M546.0 194.6h0M550.0 226.2h0M525.0 201.4h0M533.0 218.4h0M587.4 202.9h0M557.7 183.6h0M596.5 202.9h0M584.3 224.7h0M619.3 230.4h0M574.1 228.3h0M607.8 186.9h0M647.6 196.1h0M630.5 215.2h0M575.1 235.7h0M566.4 219.3h0M631.7 180.2h0M566.6 231.5h0M583.2 164.6h0M575.8 212.3h0M608.3 211.4h0M595.0 172.2h0M587.3 158.4h0M608.0 217.2h0M613.4 211.3h0M615.4 212.4h0M583.4 199.8h0M643.7 181.8h0M532.8 206.9h0M595.1 199.6h0M557.4 224.7h0M615.7 221.4h0M578.5 217.0h0M565.5 201.9h0M614.7 239.0h0M634.6 205.6h0M532.7 192.3h0M583.8 163.5h0M534.1 198.0h0M613.5 177.8h0M587.5 162.7h0M577.8 220.0h0M575.6 235.8h0M622.9 183.0h0M580.7 242.1h0M605.9 168.6h0M576.6 172.2h0M554.6 206.6h0M597.6 204.0h0M609.6 167.5h0M616.4 204.9h0M603.2 163.3h0M591.4 223.1h0M564.4 192.9h0M581.4 211.8h0M535.5 195.8h0M569.0 179.6h0M566.8 196.3h0M568.1 201.9h0M607.3 221.6h0M581.0 170.2h0M588.7 194.9h0M603.9 186.0h0M573.4 159.7h0M538.2 201.5h0M633.9 197.3h0M583.4 198.4h0M567.4 178.4h0M570.6 188.3h0M633.2 214.7h0M559.0 204.6h0M571.2 167.3h0M560.0 234.4h0M645.2 202.2h0M628.4 224.7h0M549.1 197.6h0M587.1 223.0h0M604.9 228.2h0M541.8 185.5h0M622.0 192.2h0M612.7 164.8h0M579.5 172.9h0M618.8 174.7h0M641.5 184.8h0M636.2 191.9h0M612.3 172.6h0M547.1 175.6h0M595.9 190.9h0M571.7 164.1h0M626.9 235.5h0M583.5 180.8h0M628.6 225.4h0M615.7 161.2h0M639.7 208.9h0M633.6 224.9h0M548.4 207.1h0M592.4 225.4h0M608.0 188.0h0M625.8 170.1h0M557.7 176.3h0M558.7 177.8h0M621.2 167.6h0M612.4 202.2h0M657.0 200.0h0M605.0 171.3h0M552.5 190.0h0M601.0 214.4h0M556.1 190.9h0M550.1 186.6h0M582.0 213.9h0M614.7 192.7h0M547.5 214.4h0M541.7 200.7h0M655.9 195.6h0M560.3 174.2h0M602.1 197.5h0M584.7 218.4h0M629.3 175.3h0M578.2 238.1h0M597.1 183.9h0M539.4 205.6h0M623.4 240.1h0M547.9 209.0h0M541.5 186.9h0M561.4 219.4h0M580.7 190.8h0M586.7 203.1h0M560.1 168.5h0M595.8 230.9h0M528.5 216.0h0M637.8 190.8h0M573.0 201.8h0M559.3 191.6h0M561.9 230.2h0M551.8 223.6h0M572.0 168.4h0M559.0 176.4h0M645.1 198.1h0M542.6 177.7h0M643.4 189.8h0M602.9 169.8h0M621.6 189.5h0M613.2 222.2h0M582.3 158.5h0M649.3 188.7h0M653.9 189.9h0M565.8 231.5h0M592.1 242.9h0M584.5 212.0h0M596.9 189.6h0M561.0 169.9h0M639.3 188.4h0M616.1 171.6h0M573.2 197.6h0M531.9 205.0h0M652.5 201.7h0M578.3 236.4h0M595.0 240.0h0M603.5 163.3h0M567.3 181.5h0M608.0 208.4h0M583.4 203.0h0M581.8 195.3h0M578.9 177.3h0M581.8 200.1h0M607.6 239.2h0M607.1 191.1h0M531.1 199.4h0M602.5 171.9h0M559.5 190.7h0M558.2 186.0h0M631.2 207.8h0M572.6 230.7h0M618.1 215.4h0M608.2 242.1h0M626.5 219.4h0M653.5 194.2h0M523.7 211.2h0M616.7 192.9h0M622.1 185.3h0M573.8 230.1h0M568.1 168.7h0M577.4 241.3h0M561.9 230.4h0M593.9 240.5h0M578.8 223.6h0M621.1 214.4h0M586.3 189.7h0M626.2 230.8h0M614.4 197.2h0M574.6 192.0h0M567.5 184.1h0M532.2 216.9h0M614.9 224.7h0M606.4 226.1h0M554.8 213.4h0M567.3 215.8h0M626.0 182.5h0M610.5 203.5h0M551.9 174.7h0M528.4 217.8h0M576.4 229.6h0M590.1 195.4h0M598.3 195.4h0M557.3 222.3h0M648.3 202.2h0M637.9 220.8h0M555.7 170.3h0M611.0 219.5h0M637.0 208.6h0M599.7 227.7h0M615.5 202.9h0M579.5 199.2h0M595.0 193.0h0M567.9 163.3h0M623.0 236.5h0M611.7 230.5h0M570.1 216.0h0M554.3 171.1h0M610.9 239.5h0M609.0 188.1h0M588.5 161.5h0M631.8 185.5h0M599.5 163.1h0M563.9 190.3h0M621.3 238.4h0M600.7 168.1h0M636.1 183.1h0M550.1 193.6h0M593.9 217.5h0M602.8 236.3h0M526.2 202.7h0M556.0 196.8h0M639.6 189.7h0M548.3 223.4h0M575.1 186.8h0M631.0 206.3h0M612.3 171.9h0M591.6 160.4h0M608.9 172.3h0M551.4 213.0h0M576.5 197.8h0M597.1 158.7h0M586.0 168.8h0M601.6 202.5h0M549.5 179.1h0M618.9 172.9h0M605.2 228.3h0M628.3 219.2h0M589.2 210.1h0M593.7 231.2h0M601.6 224.6h0M580.7 183.7h0M570.7 211.9h0M536.9 203.8h0M637.5 183.4h0" stroke="#b6b6b6" stroke-width="1.0" stroke-linecap="round" fill="none" opacity="1"/>
<path d="M615.4 168.7h0M574.0 177.9h0M589.8 177.3h0M544.4 213.4h0M592.7 231.2h0M556.9 185.0h0M602.2 195.7h0M608.4 239.3h0M567.8 167.0h0M584.3 236.5h0M580.9 229.5h0M544.9 214.3h0M579.2 191.9h0M558.4 179.5h0M596.5 214.3h0M594.7 203.0h0M619.9 229.4h0M612.3 194.9h0M644.7 203.1h0M603.9 199.8h0M538.0 196.5h0M583.4 170.0h0M639.7 207.4h0M558.0 205.9h0M574.9 173.8h0M576.0 160.2h0M544.5 213.6h0M610.0 179.3h0M617.0 181.2h0M590.2 175.4h0M551.0 216.0h0M614.2 193.5h0M569.4 160.9h0M622.7 233.4h0M527.6 213.2h0M540.2 211.2h0M578.0 221.1h0M527.5 212.0h0M554.7 184.1h0M614.3 162.6h0M629.7 203.0h0M596.9 178.1h0M589.6 216.2h0M546.0 183.0h0M659.6 198.0h0M603.3 192.3h0M586.0 235.0h0M570.1 189.9h0M580.0 197.7h0M558.3 196.5h0M595.9 156.8h0M600.1 157.0h0M587.4 187.9h0M560.8 212.2h0M593.3 212.6h0M556.6 204.4h0M592.2 204.9h0M653.9 189.5h0M599.8 228.1h0M567.2 209.7h0M567.4 218.7h0M604.7 182.5h0M604.8 168.6h0M551.8 208.9h0M542.1 218.5h0M541.9 202.3h0M652.3 200.5h0M581.4 202.6h0M576.6 176.1h0M556.7 230.2h0M643.9 186.0h0M592.1 159.7h0M546.3 201.0h0M631.6 199.8h0M642.9 189.3h0M576.1 202.1h0M576.8 171.6h0M598.3 172.8h0M573.6 229.3h0M600.5 198.9h0M578.5 194.3h0M647.3 184.3h0M554.7 221.7h0M556.7 190.3h0M600.9 229.0h0M640.4 186.9h0M575.0 225.7h0M591.4 157.5h0M613.3 165.8h0M592.3 188.1h0M577.4 164.2h0M619.2 187.7h0M548.1 194.9h0M545.9 200.6h0M534.4 197.8h0M563.9 220.9h0M562.7 186.8h0M585.3 235.2h0M627.8 198.8h0M548.2 183.3h0M582.7 224.3h0M612.3 211.7h0M578.8 168.2h0M570.0 195.1h0M551.4 210.3h0M608.8 211.0h0M639.0 199.8h0M538.8 217.2h0M547.6 221.1h0M556.9 191.8h0M570.1 166.1h0M585.8 238.2h0M628.3 209.7h0M544.7 194.0h0M602.5 164.4h0M595.4 181.1h0M530.3 214.3h0M632.7 215.0h0M606.7 216.9h0M625.5 228.4h0M535.1 204.5h0M588.6 218.1h0M563.1 216.2h0M648.3 188.6h0M613.6 188.6h0M554.5 222.3h0M608.0 179.9h0M608.1 214.1h0M614.7 208.3h0M587.7 225.6h0M586.3 191.3h0M597.0 188.2h0M541.3 193.6h0M615.4 167.9h0M524.1 211.5h0M633.9 206.7h0M598.0 197.3h0M576.7 165.6h0M623.0 172.3h0M620.7 187.9h0M627.2 194.4h0M600.4 205.7h0M628.9 222.2h0M584.2 235.6h0M601.8 192.4h0M542.9 183.9h0M566.5 227.1h0M591.3 209.9h0M650.9 186.9h0M592.4 218.7h0M559.4 201.2h0M634.5 195.7h0M607.5 184.1h0M620.5 206.4h0M564.3 175.6h0M595.4 239.0h0M622.3 173.7h0M646.7 189.8h0M584.5 239.9h0M555.7 188.8h0M576.3 216.2h0M618.5 217.2h0M569.3 160.6h0M594.1 189.8h0M634.9 190.4h0M572.4 184.1h0M630.9 202.2h0M533.4 218.3h0M552.1 177.4h0M557.2 202.4h0M569.9 185.1h0M568.0 166.0h0M559.7 209.6h0M606.7 239.9h0M594.0 172.8h0M606.9 231.1h0M611.6 226.4h0M609.7 193.9h0M535.5 208.1h0M615.1 217.0h0M629.3 225.3h0M602.7 231.0h0M594.9 204.9h0M627.8 226.1h0M606.8 240.0h0M538.3 214.7h0M546.7 183.8h0M587.9 213.9h0M574.3 212.0h0M582.2 175.6h0M571.8 209.2h0M563.2 193.7h0M634.4 188.6h0M542.1 195.6h0M584.2 218.1h0M541.5 196.2h0M561.0 235.1h0M635.0 209.0h0M562.9 232.6h0M579.6 229.3h0" stroke="#828282" stroke-width="1.0" stroke-linecap="round" fill="none" opacity="1"/>
<path d="M582.3 345.9h0M595.2 342.1h0M585.4 332.6h0M577.4 355.0h0M555.3 350.6h0M574.5 346.9h0M579.1 339.1h0M596.1 329.0h0M576.8 354.9h0M604.3 342.6h0M592.0 329.4h0M601.6 327.6h0M585.6 329.0h0M581.3 347.2h0M597.1 334.5h0M604.0 329.7h0M562.5 357.7h0M552.2 340.8h0M584.5 346.4h0M593.7 333.1h0M587.1 326.2h0M618.5 320.1h0M585.1 338.2h0M603.5 332.4h0M588.7 334.8h0M583.8 343.2h0M587.9 340.1h0M584.8 351.6h0M602.2 348.5h0M597.6 336.3h0M591.7 347.4h0M585.1 331.0h0M568.9 327.5h0M612.2 341.1h0M566.1 340.7h0M574.7 339.5h0M595.4 338.3h0M594.1 341.4h0M595.8 340.4h0M564.2 345.1h0M587.8 320.3h0M611.5 339.2h0M591.5 340.8h0M589.3 351.4h0M597.7 335.9h0M572.8 358.3h0M579.5 349.7h0M585.3 343.7h0M603.2 315.0h0M581.4 332.4h0M578.5 347.1h0M572.0 335.3h0M586.0 359.4h0M583.4 334.4h0M589.3 324.1h0M591.6 345.7h0M586.3 335.7h0M560.6 363.6h0M592.4 348.7h0M605.8 318.1h0M586.8 327.4h0M595.8 331.5h0M595.1 328.2h0M573.2 335.1h0M590.2 352.9h0M549.4 341.2h0M576.9 335.4h0M573.9 361.1h0M582.1 354.6h0M566.0 325.9h0M600.7 346.4h0M602.3 344.3h0M570.2 334.5h0M592.1 331.3h0M592.8 329.2h0M584.0 344.1h0M587.3 339.3h0M586.5 353.9h0M585.3 334.3h0M586.7 328.9h0M600.8 348.4h0M582.2 330.6h0M568.8 346.5h0M567.5 337.2h0M586.2 333.2h0M594.4 336.2h0M587.0 352.1h0M600.3 329.9h0M580.4 352.5h0M602.9 326.7h0M588.6 355.1h0M611.1 325.8h0M583.0 345.4h0M581.8 343.6h0M601.2 340.1h0M594.8 322.6h0M564.5 363.9h0M595.2 342.1h0M590.9 350.6h0M595.4 328.7h0M593.6 314.8h0M561.4 356.0h0M596.5 327.1h0M592.0 340.4h0M593.6 347.3h0M600.2 333.4h0M576.2 345.6h0M580.8 329.7h0M568.4 346.4h0M574.0 341.2h0M601.7 343.4h0M591.8 337.8h0M585.3 346.6h0M585.8 334.2h0M571.5 353.7h0M570.9 357.2h0M595.8 339.1h0M590.0 347.5h0M578.8 341.4h0M566.4 344.7h0M567.7 334.5h0M608.5 335.6h0M576.3 326.4h0M592.8 340.0h0M583.0 327.0h0M608.8 345.8h0M578.5 330.3h0M583.4 327.5h0M586.8 342.5h0M582.8 353.7h0M593.6 341.9h0M603.1 338.7h0M607.6 325.2h0M601.2 332.8h0M583.8 337.0h0M587.7 332.0h0M568.5 355.6h0M590.6 334.7h0M591.2 318.3h0M593.9 320.9h0M582.6 348.2h0M602.0 334.5h0M587.9 344.7h0M610.6 319.7h0M588.8 330.6h0M601.1 339.6h0M600.9 336.3h0M576.6 339.5h0M585.3 348.3h0M588.7 336.3h0M589.8 325.2h0M566.6 345.7h0M615.2 326.9h0M588.9 348.5h0M558.9 352.8h0M595.3 347.4h0M597.0 333.9h0M581.2 337.7h0M573.2 342.4h0M584.7 339.8h0M605.1 350.8h0M596.0 342.5h0M597.9 333.2h0M573.5 341.5h0M607.1 329.1h0M556.7 355.2h0M592.9 335.8h0M575.7 340.6h0M614.9 341.5h0M603.9 337.1h0M595.4 348.3h0M602.7 350.5h0M580.9 345.4h0M588.1 333.8h0M584.1 333.4h0M590.8 330.9h0M571.4 335.4h0M561.0 352.8h0M577.8 342.4h0M567.1 347.8h0M576.3 351.2h0M598.4 336.9h0M585.5 331.2h0M603.7 347.4h0M591.9 337.5h0M597.0 336.7h0M599.6 335.5h0M594.1 358.7h0M593.0 349.7h0M588.5 354.4h0M599.7 338.9h0M597.9 340.5h0M591.7 348.2h0M590.6 336.8h0M595.8 348.7h0M591.0 328.8h0M583.5 348.3h0M580.0 352.2h0M587.6 337.1h0M594.9 341.8h0M566.8 338.4h0M588.5 338.9h0M601.7 338.9h0M564.7 325.8h0M581.7 350.1h0M599.0 320.9h0M594.7 331.0h0M574.9 328.0h0M589.7 345.6h0M595.2 332.1h0M586.9 343.8h0M597.0 324.2h0M593.2 347.2h0M586.0 340.7h0M586.1 335.9h0M576.5 356.3h0M590.5 354.7h0M601.1 322.9h0M565.1 361.7h0M581.7 373.2h0M571.9 339.9h0M590.9 334.0h0M589.9 355.1h0M619.4 331.9h0M574.7 349.5h0M593.5 335.9h0M605.6 331.3h0M564.2 336.5h0M605.9 349.2h0M573.8 335.3h0M612.5 328.2h0M598.1 348.5h0M590.1 337.8h0M564.0 362.1h0M590.0 356.8h0M590.6 323.4h0M608.6 327.9h0M613.1 337.6h0M584.0 331.1h0M598.5 338.0h0M577.6 343.3h0M595.5 334.5h0M589.1 343.6h0M579.8 324.2h0M592.1 347.0h0M598.0 324.8h0M611.1 360.5h0M585.8 331.5h0M574.8 349.9h0M574.7 337.6h0M598.1 341.0h0M602.4 340.1h0M570.7 339.2h0M605.5 335.2h0M586.0 327.0h0M582.1 357.3h0M573.4 357.4h0M593.8 336.2h0M583.1 342.7h0M607.7 350.9h0M586.4 331.4h0M608.7 338.9h0M583.4 335.4h0M568.1 344.6h0M594.6 338.1h0M614.2 328.1h0M588.1 347.7h0M608.1 332.2h0M593.3 348.9h0M584.0 348.8h0M600.3 334.9h0M609.8 314.7h0M605.9 319.2h0M589.5 324.9h0M567.2 340.1h0M604.1 327.1h0M565.6 345.1h0M592.9 326.0h0M606.7 330.9h0M586.0 344.5h0M605.2 333.4h0M602.7 327.5h0M589.9 332.6h0M581.6 364.8h0M573.7 331.4h0M588.5 353.3h0M585.5 346.0h0M594.7 340.7h0M601.3 337.5h0M595.3 325.7h0M579.1 354.2h0M595.5 331.3h0M614.8 310.6h0M586.4 342.8h0M566.9 329.5h0M583.0 348.2h0M590.7 342.8h0M579.4 336.4h0M598.6 329.1h0M606.1 340.3h0M601.2 330.6h0M608.6 329.3h0M599.1 316.6h0M587.5 328.8h0M602.2 335.8h0M591.1 329.5h0M589.8 333.4h0M600.9 326.3h0M601.6 328.4h0M591.5 325.3h0M592.6 340.9h0M601.2 330.8h0M598.1 328.9h0M584.7 342.9h0M614.9 328.0h0M588.9 338.8h0M599.9 330.7h0M603.1 322.5h0M605.0 328.3h0M588.6 323.0h0M584.3 331.2h0M597.5 332.8h0M601.3 348.1h0M581.8 336.2h0M614.5 328.5h0M590.7 329.5h0M586.4 324.5h0M596.6 329.5h0M598.9 331.5h0M597.0 337.0h0M587.7 338.3h0M597.6 326.1h0M587.2 341.3h0M596.3 329.6h0M589.8 340.8h0M591.8 330.1h0M586.7 335.6h0M599.7 335.1h0M601.3 326.0h0M576.4 340.5h0M603.6 329.7h0M601.9 331.0h0M609.3 329.6h0M599.0 343.9h0M606.0 324.4h0M606.7 331.8h0M598.1 335.5h0M590.6 334.8h0M602.8 327.1h0M599.3 334.0h0M590.7 332.1h0M603.0 323.8h0M596.4 327.3h0M585.8 327.3h0M604.7 332.8h0M594.7 328.0h0M602.3 329.9h0M606.0 337.2h0M610.7 330.1h0M590.0 329.9h0M519.7 335.0h0M519.9 336.3h0M519.7 338.2h0M520.2 335.3h0M516.7 336.2h0M519.1 335.2h0M534.0 351.7h0M533.1 352.4h0M535.6 352.0h0M530.6 352.1h0M542.4 335.8h0M542.3 340.0h0M543.9 339.3h0M546.8 338.5h0M546.0 340.1h0M544.6 338.3h0M543.4 339.0h0M545.8 340.6h0M551.5 361.2h0M551.5 360.7h0M553.7 359.7h0M556.3 360.5h0M552.7 361.3h0M552.0 361.2h0M554.3 360.4h0M554.3 361.4h0M559.9 358.3h0M560.7 358.0h0M557.1 358.2h0M559.9 358.3h0M558.6 358.3h0M561.7 358.1h0M573.8 380.2h0M577.3 378.6h0M573.8 378.8h0M574.2 380.7h0M574.3 380.5h0M592.3 369.6h0M588.1 369.8h0M589.0 371.6h0M590.7 369.7h0M589.9 369.7h0M604.0 374.9h0M602.4 375.2h0M603.7 373.6h0M601.0 377.7h0M600.9 376.1h0M600.9 374.5h0M600.9 377.1h0M623.1 372.4h0M624.9 372.9h0M623.8 372.9h0M626.4 371.4h0M622.4 370.0h0M641.3 353.8h0M643.9 356.3h0M641.7 357.1h0M642.3 357.3h0M642.4 353.4h0M643.7 355.7h0M641.7 355.8h0M641.4 358.8h0M629.8 347.0h0M627.9 347.3h0M630.1 346.6h0M629.5 347.8h0M630.6 348.0h0M631.3 345.8h0M630.9 346.0h0M623.3 341.7h0M622.7 342.5h0M622.9 343.7h0M624.4 344.0h0M620.7 340.6h0M623.7 341.9h0M627.2 342.5h0M622.7 341.9h0M622.9 342.9h0M623.1 342.8h0M634.1 339.1h0M633.4 338.4h0M631.9 336.9h0M634.9 339.7h0M658.8 344.4h0M658.7 345.8h0M656.4 343.2h0M659.5 344.6h0M657.8 346.0h0M658.6 348.4h0M622.4 327.7h0M621.6 330.6h0M619.1 328.4h0M623.9 326.3h0M621.5 327.8h0M619.2 328.0h0M558.9 306.9h0M556.6 306.0h0M600.9 309.3h0M600.9 309.4h0M600.8 309.5h0M599.8 306.6h0M547.8 330.9h0M547.2 332.3h0M546.7 333.2h0M547.4 333.7h0M543.9 333.6h0M545.7 334.5h0M551.4 327.1h0M552.9 328.2h0M552.5 329.4h0" stroke="#858585" stroke-width="1.9" stroke-linecap="round" fill="none" opacity="1"/>
<path d="M596.6 422.0h0M598.6 421.2h0M597.2 422.2h0M598.7 422.3h0M598.3 421.1h0M599.7 418.6h0M602.8 417.7h0M600.7 419.0h0M603.7 420.1h0M602.2 417.3h0M606.9 420.2h0M603.9 421.8h0M606.6 421.5h0M606.4 418.6h0M605.5 421.5h0M605.1 424.6h0M606.9 423.6h0M607.1 423.7h0M606.6 426.6h0M606.2 425.6h0M606.5 430.0h0M605.7 428.2h0M606.6 428.5h0M605.6 428.7h0M605.7 425.2h0M575.0 426.8h0M577.5 429.3h0M576.1 427.6h0M577.7 427.8h0M575.5 428.0h0M583.0 428.4h0M583.0 430.6h0M583.4 429.1h0M581.5 427.0h0M580.8 426.5h0M585.7 429.3h0M584.9 431.2h0M587.0 428.6h0M586.5 428.5h0M587.4 428.5h0M590.3 430.0h0M590.3 427.7h0M591.0 429.5h0M593.0 431.2h0M591.2 430.5h0M574.0 438.7h0M573.7 438.9h0M572.4 436.7h0M575.3 439.5h0M579.0 440.1h0M581.5 440.7h0M579.6 438.4h0M582.0 441.4h0M585.4 441.0h0M584.0 442.1h0M583.6 439.4h0M582.6 443.0h0M592.1 434.4h0M589.5 435.7h0M589.9 435.2h0M589.1 435.9h0M595.9 436.8h0M596.3 439.2h0M596.0 439.2h0M595.7 437.6h0M554.4 437.6h0M554.5 437.6h0M553.6 436.7h0M555.7 434.1h0M562.3 433.2h0M557.0 435.5h0M557.8 434.4h0M560.2 434.6h0M563.4 434.9h0M564.3 431.7h0M560.9 432.8h0M563.2 431.1h0M567.6 436.1h0M567.6 434.9h0M566.8 434.2h0M565.4 434.2h0M555.1 441.1h0M557.5 442.5h0M558.7 444.6h0M555.3 442.9h0M559.7 444.8h0M558.6 445.2h0M560.0 444.3h0M558.9 445.5h0M564.2 444.1h0M563.9 444.1h0M561.6 445.4h0M562.9 444.2h0M564.8 444.5h0M564.7 445.1h0M569.5 445.2h0M568.8 444.9h0M558.7 453.6h0M559.5 451.4h0M558.0 451.3h0M556.0 451.9h0M559.8 453.2h0M561.3 454.5h0M561.7 453.9h0M560.5 452.2h0M566.1 455.2h0M566.3 456.0h0M563.5 455.5h0M564.8 455.6h0M542.4 456.6h0M545.0 457.9h0M542.4 457.1h0M540.3 460.9h0M542.1 461.1h0M541.0 463.4h0M542.5 461.2h0M543.8 463.3h0M545.3 463.1h0M546.4 461.7h0M546.5 464.8h0M546.7 464.6h0M576.9 456.3h0M578.3 455.6h0M575.9 456.9h0M577.1 456.3h0M577.7 456.8h0M578.3 457.6h0M581.5 460.3h0M578.3 456.8h0M570.4 452.0h0M568.6 450.7h0M560.1 460.3h0M560.6 463.8h0M560.0 461.8h0M561.5 465.1h0M560.6 463.8h0M562.1 464.1h0M564.5 468.1h0M564.8 467.0h0M564.6 467.9h0M563.8 466.3h0M561.9 466.3h0M560.4 464.3h0M566.8 467.8h0M566.5 467.3h0M570.0 468.3h0M568.7 469.8h0M568.6 469.8h0M568.8 467.5h0M575.3 469.2h0M573.7 470.0h0M571.6 467.6h0M573.5 470.6h0M574.2 471.3h0M575.0 471.1h0M574.9 471.2h0M576.5 469.4h0M577.0 470.4h0M575.0 468.2h0M577.6 468.9h0M574.8 471.2h0M579.3 469.9h0M583.0 471.5h0M580.1 469.9h0M581.8 469.9h0M581.5 470.5h0M583.5 470.2h0M584.1 472.1h0M588.6 470.7h0M584.8 471.6h0M586.6 471.4h0M585.9 471.1h0M590.4 470.5h0M589.6 472.3h0M593.3 472.8h0M591.3 471.7h0M591.6 472.9h0M591.7 472.2h0M590.7 473.0h0M567.3 473.8h0M565.3 474.3h0M568.1 474.2h0M566.8 473.9h0M565.5 473.5h0M571.2 473.6h0M571.8 473.1h0M570.1 472.3h0M571.2 472.9h0M573.5 472.9h0M574.8 471.8h0M573.5 473.4h0M574.2 474.2h0M575.0 472.4h0M575.4 473.7h0M580.6 472.3h0M581.6 470.9h0M577.9 471.8h0M579.2 472.2h0M581.9 472.7h0M583.3 472.7h0M584.3 472.7h0M583.4 473.0h0M583.6 472.0h0M584.1 472.1h0M588.8 473.9h0M591.8 474.6h0M590.1 475.0h0M589.0 473.9h0M590.3 475.7h0M566.1 476.3h0M565.0 477.8h0M565.3 477.5h0M594.8 482.1h0M592.3 480.8h0M592.6 481.2h0M594.0 481.9h0M585.2 489.4h0M587.0 489.1h0M582.7 488.4h0M583.3 492.1h0M583.2 490.8h0M590.9 489.7h0M590.4 488.1h0M590.6 489.3h0M589.3 491.3h0M589.3 490.3h0M594.1 490.2h0M593.2 490.8h0M596.4 491.3h0M595.3 490.8h0M593.8 489.4h0M601.7 491.8h0M600.9 491.7h0M599.4 492.4h0M602.3 493.5h0M598.5 492.4h0M610.5 469.1h0M611.7 469.3h0M610.5 468.8h0M609.9 470.2h0M616.0 483.3h0M614.4 486.4h0M616.7 483.9h0M617.7 485.2h0M613.2 486.5h0M618.1 479.1h0M619.6 479.7h0M618.2 481.1h0M617.7 479.0h0M616.6 482.1h0M622.2 477.3h0M621.9 478.3h0M620.1 477.5h0M621.3 478.2h0M621.4 476.8h0M622.2 476.3h0M622.8 471.6h0M621.4 472.0h0M620.5 475.8h0M624.2 473.3h0M603.9 450.6h0" stroke="#858585" stroke-width="1.9" stroke-linecap="round" fill="none" opacity="1"/>
<path d="M564.0 308.1h0M564.9 304.5h0M569.6 303.4h0M566.9 305.8h0M564.3 305.3h0M566.7 303.7h0M568.9 307.2h0M575.3 307.5h0M567.7 304.5h0M567.0 309.4h0M567.2 302.5h0M564.5 303.1h0M561.7 303.3h0M566.2 299.3h0M564.2 305.1h0M568.2 299.3h0M556.4 304.0h0M566.7 301.5h0M568.2 302.3h0M568.5 305.9h0M571.0 302.9h0M568.2 306.6h0M568.2 304.4h0M560.1 303.3h0M566.4 305.6h0M561.6 307.4h0M571.0 303.1h0M569.3 305.8h0M563.2 305.1h0M568.4 306.1h0M567.4 303.2h0M573.3 300.8h0M562.9 307.9h0M567.5 306.9h0M567.5 307.8h0M573.1 307.6h0M565.9 304.1h0M566.0 306.9h0M575.7 303.6h0M568.0 308.2h0M578.6 311.9h0M577.6 320.7h0M585.2 315.9h0M578.7 311.4h0M578.4 316.5h0M576.0 317.5h0M577.0 314.5h0M577.5 316.5h0M581.9 315.8h0M574.8 315.7h0M574.8 317.0h0M581.2 314.3h0M575.7 313.6h0M578.4 315.3h0M581.8 317.1h0M576.3 313.9h0M577.9 316.4h0M576.8 311.7h0M579.8 316.4h0M578.7 317.6h0M574.0 313.4h0M574.1 313.3h0M577.6 317.9h0M576.0 310.6h0M582.4 313.0h0M580.3 318.6h0M580.1 316.2h0M575.0 316.8h0M617.9 313.5h0M616.8 312.5h0M621.3 309.5h0M617.5 310.7h0M620.2 308.0h0M619.1 312.3h0M616.7 312.9h0M613.0 310.6h0M612.1 309.7h0M613.6 309.9h0M612.8 312.6h0M619.2 313.3h0M617.2 313.4h0M616.4 312.2h0M615.3 311.6h0M613.8 311.4h0M611.8 313.0h0M613.1 311.2h0M620.0 310.9h0M619.1 310.3h0M619.2 311.8h0M617.2 314.3h0M610.5 48.1h0M608.9 48.5h0M609.7 47.5h0M608.9 48.7h0M646.5 60.8h0M646.8 61.0h0M646.6 59.8h0M648.0 61.1h0M654.4 61.9h0M639.7 171.3h0M641.0 168.5h0M639.9 168.6h0M639.8 171.2h0M640.6 171.1h0M641.0 168.5h0M639.5 177.0h0M639.4 173.6h0M641.5 174.8h0M640.2 176.2h0M638.4 175.1h0M639.1 173.3h0M598.8 458.5h0M602.7 458.9h0M600.7 457.6h0M597.8 456.2h0M598.1 455.5h0M599.3 458.1h0M602.3 456.7h0M599.3 456.7h0M599.0 454.5h0M606.4 455.6h0M600.7 457.3h0M604.6 455.2h0M606.3 454.7h0M607.9 453.9h0M605.5 457.9h0M605.1 457.0h0M606.7 455.7h0M605.1 454.2h0M609.4 451.4h0M604.2 456.0h0M605.8 455.8h0M607.5 456.0h0M610.4 454.0h0M611.3 455.7h0M610.5 453.4h0M612.7 457.0h0M612.8 454.7h0M611.8 456.0h0M611.4 455.4h0M614.3 455.6h0M614.1 455.0h0M610.3 456.7h0M610.4 457.0h0M617.1 456.2h0M613.0 457.3h0M616.5 456.4h0M613.8 456.4h0M619.1 453.9h0M618.2 456.9h0M615.2 456.7h0M617.5 456.3h0M615.7 457.7h0M619.7 456.1h0M615.2 456.2h0M620.8 455.6h0M622.7 455.6h0M619.1 457.3h0M619.0 460.2h0M618.9 457.5h0M616.7 456.2h0M620.8 454.8h0M617.7 459.8h0M618.6 458.1h0M619.3 456.5h0M620.2 456.4h0M629.3 460.9h0M626.0 456.5h0M623.5 455.8h0M625.3 454.4h0M625.0 456.2h0M626.1 457.7h0M627.8 458.0h0M624.7 457.6h0M628.4 457.7h0M631.4 457.2h0M622.4 459.3h0M630.0 456.7h0M626.9 459.1h0M630.5 457.5h0M629.1 458.4h0M632.6 459.8h0M633.0 457.6h0M633.1 457.6h0M629.4 458.0h0M630.5 459.7h0M631.2 457.7h0M633.8 458.0h0M635.4 458.1h0M634.8 458.9h0M635.0 460.1h0M634.1 459.7h0M638.8 458.3h0M637.5 458.0h0M637.5 459.7h0M635.1 457.5h0M635.3 462.1h0M633.4 458.8h0M638.6 458.8h0M638.3 459.0h0M640.0 457.5h0M638.6 458.0h0M639.4 460.4h0M640.0 458.5h0M639.4 458.4h0M637.1 459.2h0M637.0 457.1h0M639.6 460.2h0M638.0 458.8h0M637.4 460.0h0" stroke="#b0cce6" stroke-width="1.9" stroke-linecap="round" fill="none" opacity="1"/>
<path d="M592.6 298.8h0M591.3 298.8h0M593.1 296.7h0M591.5 296.2h0M590.9 297.0h0M591.9 296.5h0M601.3 313.3h0M603.5 312.4h0M603.0 313.1h0M603.4 312.9h0M601.9 312.7h0M602.4 311.9h0M643.0 323.4h0M642.3 327.2h0M646.6 321.5h0M635.8 327.2h0M644.6 326.2h0M643.4 324.9h0M645.7 324.1h0M638.7 327.6h0M639.8 330.8h0M639.9 328.8h0M640.7 330.2h0M634.9 325.5h0M647.2 328.1h0M646.0 329.0h0M642.8 331.3h0M639.1 327.6h0M636.4 327.4h0M639.0 322.2h0M653.2 327.4h0M646.4 328.5h0M634.9 330.3h0M641.0 333.0h0M642.9 328.4h0M641.1 329.7h0M642.9 325.1h0M633.2 325.4h0M645.7 329.1h0M636.6 324.4h0M645.4 328.2h0M639.9 326.4h0M649.3 327.7h0M644.9 329.6h0M638.7 329.6h0M645.7 323.8h0M563.6 124.5h0M566.9 123.4h0M565.4 123.5h0M567.7 125.7h0M568.1 125.0h0M566.4 125.2h0M564.4 125.6h0M563.4 125.2h0M567.0 125.6h0M565.0 127.5h0M565.8 125.0h0M566.0 125.0h0M572.7 125.7h0M576.3 126.1h0M573.6 126.9h0M576.3 125.8h0M572.4 129.1h0M571.1 125.7h0M574.3 128.8h0M571.9 123.2h0M574.3 125.5h0M572.7 126.7h0M573.6 126.4h0M572.7 127.6h0M630.3 165.4h0M631.8 168.3h0M630.8 167.5h0M634.0 164.1h0M628.7 166.4h0M626.3 165.1h0M632.3 166.8h0M630.9 162.9h0M634.4 166.1h0M631.2 166.0h0M626.3 163.5h0M627.3 167.9h0M628.0 165.1h0M629.2 166.1h0M630.7 165.7h0M627.2 161.3h0M630.0 165.7h0M632.2 165.3h0M628.5 165.9h0M626.6 164.0h0M627.7 165.8h0M633.9 166.4h0M632.0 165.7h0M630.3 164.8h0M629.1 162.2h0M627.3 163.7h0M631.4 166.3h0M632.0 167.4h0M629.1 166.8h0M633.6 165.4h0M631.9 165.2h0M626.5 165.6h0M622.0 159.6h0M622.3 159.7h0M621.0 160.8h0M659.9 203.5h0M658.3 203.7h0M659.4 204.0h0M600.6 171.8h0M615.1 442.7h0M618.3 438.9h0M620.1 438.8h0M620.3 441.5h0M616.0 441.9h0M618.6 443.7h0M618.8 440.6h0M619.9 441.7h0M620.0 439.0h0M619.9 437.6h0M621.2 436.8h0M622.5 435.3h0M621.0 434.2h0M620.9 438.4h0M622.4 436.2h0M619.5 438.2h0M633.2 435.6h0M630.6 435.9h0M632.1 434.6h0M630.8 436.9h0M632.3 434.7h0M635.2 435.3h0M633.3 436.6h0M632.5 434.7h0M634.4 433.5h0M635.3 435.4h0" stroke="#f2bfa6" stroke-width="1.9" stroke-linecap="round" fill="none" opacity="1"/>
<path d="M547.7 325.1h0M549.5 325.6h0M549.5 327.0h0M549.4 328.1h0M548.3 325.1h0M546.9 326.4h0M546.8 328.3h0M548.6 326.3h0M566.4 326.6h0M564.6 327.1h0M563.9 325.5h0M566.0 326.7h0M566.0 325.6h0M565.3 326.5h0M647.6 176.6h0M648.3 174.8h0M647.3 176.8h0M649.4 175.2h0M647.4 448.8h0M649.0 447.9h0M651.7 447.1h0M651.3 447.4h0M649.5 448.6h0" stroke="#a3cb94" stroke-width="1.9" stroke-linecap="round" fill="none" opacity="1"/>
</svg></body></html>
